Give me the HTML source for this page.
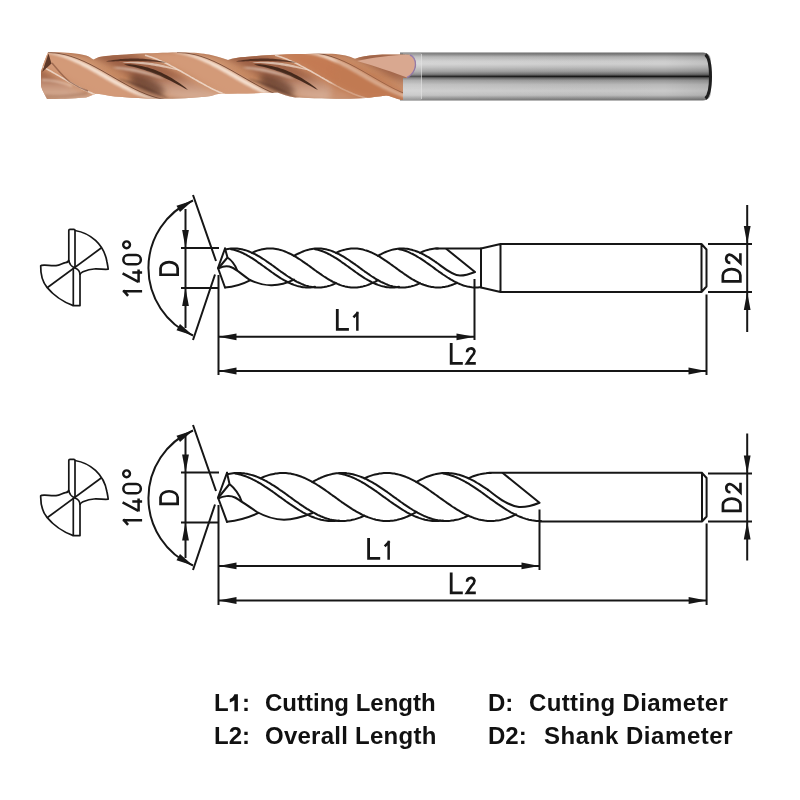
<!DOCTYPE html>
<html><head><meta charset="utf-8"><style>
html,body{margin:0;padding:0;background:#fff;}
svg{display:block;}
text{font-family:"Liberation Sans",sans-serif;}
.lg{position:absolute;font-family:"Liberation Sans",sans-serif;font-size:24px;font-weight:bold;color:#111;white-space:pre;line-height:1;will-change:transform;}
</style></head><body>
<div style="position:relative;width:800px;height:800px;overflow:hidden;">
<svg width="800" height="800" viewBox="0 0 800 800">
<defs>
<clipPath id="cu"><path d="M48,52.5 C58,51.8 76,53 86,55.5 C89,56.5 91,58 93.5,59.5 C97,57.5 101,56.3 106,56 C125,54 165,52.2 186,52.5 C198,52.8 206,53.8 211,55 C218,56.5 223,58.5 228,60 C233,58.3 239,57.2 245,57 C268,54.5 300,53.5 332,53.7 C342,54.2 350,56.2 355,58.8 C361,56.5 368,55.3 375,55 C385,54.2 397,54.5 409,54.8 C414,56 416,60 415.8,65 C415.5,70 412,75 407,78 L403,78 L403,100 C395,99 392,96 386,95.5 C372,97.5 360,98.8 345,98.8 C320,98.5 305,98 295,97.5 C288,96.5 282,94 277.5,92.5 C265,93 240,93.5 220,93.8 C215,94.5 213,95.5 211,96 C195,98 175,98.8 161,98.8 C140,98.5 120,97 111,96 C105,95 100,94 96,93.8 C92,95 89,97 86,97.5 C72,98.5 58,99 47,99 C44,93 41,88 41,85 L41,71.5 C43,64 46,57 48,52.5 Z"/></clipPath>
<filter id="bl05" x="-30%" y="-60%" width="160%" height="220%"><feGaussianBlur stdDeviation="0.5"/></filter>
<filter id="bl1" x="-30%" y="-60%" width="160%" height="220%"><feGaussianBlur stdDeviation="1"/></filter>
<filter id="bl15" x="-30%" y="-60%" width="160%" height="220%"><feGaussianBlur stdDeviation="1.5"/></filter>
<filter id="bl2" x="-30%" y="-60%" width="160%" height="220%"><feGaussianBlur stdDeviation="2"/></filter>
<filter id="bl3" x="-30%" y="-60%" width="160%" height="220%"><feGaussianBlur stdDeviation="3"/></filter>
<filter id="bl4" x="-30%" y="-60%" width="160%" height="220%"><feGaussianBlur stdDeviation="4"/></filter>
<linearGradient id="cuBase" x1="0" y1="0" x2="0" y2="1">
 <stop offset="0" stop-color="#a86a4a"/>
 <stop offset="0.15" stop-color="#d09670"/>
 <stop offset="0.5" stop-color="#c4865f"/>
 <stop offset="0.85" stop-color="#d09a78"/>
 <stop offset="1" stop-color="#a06848"/>
</linearGradient>
<linearGradient id="shank" x1="0" y1="0" x2="0" y2="1">
 <stop offset="0" stop-color="#6a6a6a"/>
 <stop offset="0.04" stop-color="#808080"/>
 <stop offset="0.09" stop-color="#afafaf"/>
 <stop offset="0.18" stop-color="#cdcdcd"/>
 <stop offset="0.24" stop-color="#d0d0d0"/>
 <stop offset="0.31" stop-color="#bbbbbb"/>
 <stop offset="0.39" stop-color="#9c9c9c"/>
 <stop offset="0.455" stop-color="#6c6c6c"/>
 <stop offset="0.5" stop-color="#161616"/>
 <stop offset="0.53" stop-color="#5e5e5e"/>
 <stop offset="0.58" stop-color="#969696"/>
 <stop offset="0.67" stop-color="#bababa"/>
 <stop offset="0.8" stop-color="#cacaca"/>
 <stop offset="0.89" stop-color="#bcbcbc"/>
 <stop offset="0.95" stop-color="#8e8e8e"/>
 <stop offset="1" stop-color="#6e6e6e"/>
</linearGradient>
<linearGradient id="fluteG" gradientUnits="userSpaceOnUse" x1="0" y1="52" x2="0" y2="100">
 <stop offset="0" stop-color="#9a5f44"/>
 <stop offset="0.5" stop-color="#a2664a"/>
 <stop offset="0.72" stop-color="#c8987e"/>
 <stop offset="1" stop-color="#dcb49c"/>
</linearGradient>
<linearGradient id="shankX" x1="0" y1="0" x2="1" y2="0">
 <stop offset="0" stop-color="#fff" stop-opacity="0.12"/>
 <stop offset="0.4" stop-color="#fff" stop-opacity="0.03"/>
 <stop offset="0.85" stop-color="#000" stop-opacity="0.0"/>
 <stop offset="1" stop-color="#000" stop-opacity="0.08"/>
</linearGradient>
</defs>
<path d="M400,52.5 L703,52.5 C708,52.5 711,56 711,62 L711,91 C711,97 708,100.5 703,100.5 L400,100.5 Z" fill="url(#shank)"/>
<path d="M400,53 L703,53 C708,53 711,56 711,62 L711,91 C711,97 708,100 703,100 L400,100 Z" fill="url(#shankX)"/>
<rect x="403" y="53" width="18.5" height="47" fill="#ececec" opacity="0.2"/>
<path d="M421.5,54 V99" stroke="#e6e6e6" stroke-width="1" opacity="0.6"/>
<path d="M705.5,54.5 C709.5,58 710.5,66 710.5,76.5 C710.5,87 709.5,95 705.5,98.5" fill="none" stroke="#1e1e1e" stroke-width="3"/>
<g clip-path="url(#cu)">
<rect x="38" y="50" width="380" height="52" fill="url(#cuBase)"/>
<path d="M-65.0,52.5 L-63.0,52.5 L-61.0,52.6 L-59.0,52.8 L-57.0,52.9 L-55.0,53.2 L-53.0,53.5 L-51.0,53.9 L-49.0,54.3 L-47.0,54.7 L-45.0,55.2 L-43.0,55.8 L-41.0,56.4 L-39.0,57.1 L-37.0,57.8 L-35.0,58.5 L-33.0,59.3 L-31.0,60.2 L-29.0,61.0 L-27.0,61.9 L-25.0,62.9 L-23.0,63.8 L-21.0,64.8 L-19.0,65.9 L-17.0,66.9 L-15.0,68.0 L-13.0,69.1 L-11.0,70.2 L-9.0,71.3 L-7.0,72.5 L-5.0,73.6 L-3.0,74.8 L-1.0,75.9 L1.0,77.1 L3.0,78.2 L5.0,79.4 L7.0,80.5 L9.0,81.7 L11.0,82.8 L13.0,83.9 L15.0,85.0 L17.0,86.1 L19.0,87.1 L21.0,88.2 L23.0,89.2 L25.0,90.1 L27.0,91.1 L29.0,92.0 L31.0,92.8 L33.0,93.7 L35.0,94.5 L37.0,95.2 L39.0,95.9 L41.0,96.6 L43.0,97.2 L45.0,97.8 L47.0,98.3 L49.0,98.7 L51.0,99.1 L53.0,99.5 L55.0,99.8 L57.0,100.1 L59.0,100.2 L61.0,100.4 L63.0,100.5 L65.0,100.5 L119.0,100.5 L117.0,100.5 L115.0,100.4 L113.0,100.2 L111.0,100.1 L109.0,99.8 L107.0,99.5 L105.0,99.1 L103.0,98.7 L101.0,98.3 L99.0,97.8 L97.0,97.2 L95.0,96.6 L93.0,95.9 L91.0,95.2 L89.0,94.5 L87.0,93.7 L85.0,92.8 L83.0,92.0 L81.0,91.1 L79.0,90.1 L77.0,89.2 L75.0,88.2 L73.0,87.1 L71.0,86.1 L69.0,85.0 L67.0,83.9 L65.0,82.8 L63.0,81.7 L61.0,80.5 L59.0,79.4 L57.0,78.2 L55.0,77.1 L53.0,75.9 L51.0,74.8 L49.0,73.6 L47.0,72.5 L45.0,71.3 L43.0,70.2 L41.0,69.1 L39.0,68.0 L37.0,66.9 L35.0,65.9 L33.0,64.8 L31.0,63.8 L29.0,62.9 L27.0,61.9 L25.0,61.0 L23.0,60.2 L21.0,59.3 L19.0,58.5 L17.0,57.8 L15.0,57.1 L13.0,56.4 L11.0,55.8 L9.0,55.2 L7.0,54.7 L5.0,54.3 L3.0,53.9 L1.0,53.5 L-1.0,53.2 L-3.0,52.9 L-5.0,52.8 L-7.0,52.6 L-9.0,52.5 L-11.0,52.5Z" fill="url(#fluteG)" filter="url(#bl3)"/>
<path d="M-5.0,52.5 L-3.0,52.5 L-1.0,52.6 L1.0,52.8 L3.0,52.9 L5.0,53.2 L7.0,53.5 L9.0,53.9 L11.0,54.3 L13.0,54.7 L15.0,55.2 L17.0,55.8 L19.0,56.4 L21.0,57.1 L23.0,57.8 L25.0,58.5 L27.0,59.3 L29.0,60.2 L31.0,61.0 L33.0,61.9 L35.0,62.9 L37.0,63.8 L39.0,64.8 L41.0,65.9 L43.0,66.9 L45.0,68.0 L47.0,69.1 L49.0,70.2 L51.0,71.3 L53.0,72.5 L55.0,73.6 L57.0,74.8 L59.0,75.9 L61.0,77.1 L63.0,78.2 L65.0,79.4 L67.0,80.5 L69.0,81.7 L71.0,82.8 L73.0,83.9 L75.0,85.0 L77.0,86.1 L79.0,87.1 L81.0,88.2 L83.0,89.2 L85.0,90.1 L87.0,91.1 L89.0,92.0 L91.0,92.8 L93.0,93.7 L95.0,94.5 L97.0,95.2 L99.0,95.9 L101.0,96.6 L103.0,97.2 L105.0,97.8 L107.0,98.3 L109.0,98.7 L111.0,99.1 L113.0,99.5 L115.0,99.8 L117.0,100.1 L119.0,100.2 L121.0,100.4 L123.0,100.5 L125.0,100.5 L175.0,100.5 L173.0,100.5 L171.0,100.4 L169.0,100.2 L167.0,100.1 L165.0,99.8 L163.0,99.5 L161.0,99.1 L159.0,98.7 L157.0,98.3 L155.0,97.8 L153.0,97.2 L151.0,96.6 L149.0,95.9 L147.0,95.2 L145.0,94.5 L143.0,93.7 L141.0,92.8 L139.0,92.0 L137.0,91.1 L135.0,90.1 L133.0,89.2 L131.0,88.2 L129.0,87.1 L127.0,86.1 L125.0,85.0 L123.0,83.9 L121.0,82.8 L119.0,81.7 L117.0,80.5 L115.0,79.4 L113.0,78.2 L111.0,77.1 L109.0,75.9 L107.0,74.8 L105.0,73.6 L103.0,72.5 L101.0,71.3 L99.0,70.2 L97.0,69.1 L95.0,68.0 L93.0,66.9 L91.0,65.9 L89.0,64.8 L87.0,63.8 L85.0,62.9 L83.0,61.9 L81.0,61.0 L79.0,60.2 L77.0,59.3 L75.0,58.5 L73.0,57.8 L71.0,57.1 L69.0,56.4 L67.0,55.8 L65.0,55.2 L63.0,54.7 L61.0,54.3 L59.0,53.9 L57.0,53.5 L55.0,53.2 L53.0,52.9 L51.0,52.8 L49.0,52.6 L47.0,52.5 L45.0,52.5Z" fill="#d39a78" filter="url(#bl3)"/>
<path d="M36.0,52.5 L38.0,52.5 L40.0,52.6 L42.0,52.8 L44.0,52.9 L46.0,53.2 L48.0,53.5 L50.0,53.9 L52.0,54.3 L54.0,54.7 L56.0,55.2 L58.0,55.8 L60.0,56.4 L62.0,57.1 L64.0,57.8 L66.0,58.5 L68.0,59.3 L70.0,60.2 L72.0,61.0 L74.0,61.9 L76.0,62.9 L78.0,63.8 L80.0,64.8 L82.0,65.9 L84.0,66.9 L86.0,68.0 L88.0,69.1 L90.0,70.2 L92.0,71.3 L94.0,72.5 L96.0,73.6 L98.0,74.8 L100.0,75.9 L102.0,77.1 L104.0,78.2 L106.0,79.4 L108.0,80.5 L110.0,81.7 L112.0,82.8 L114.0,83.9 L116.0,85.0 L118.0,86.1 L120.0,87.1 L122.0,88.2 L124.0,89.2 L126.0,90.1 L128.0,91.1 L130.0,92.0 L132.0,92.8 L134.0,93.7 L136.0,94.5 L138.0,95.2 L140.0,95.9 L142.0,96.6 L144.0,97.2 L146.0,97.8 L148.0,98.3 L150.0,98.7 L152.0,99.1 L154.0,99.5 L156.0,99.8 L158.0,100.1 L160.0,100.2 L162.0,100.4 L164.0,100.5 L166.0,100.5 L175.0,100.5 L173.0,100.5 L171.0,100.4 L169.0,100.2 L167.0,100.1 L165.0,99.8 L163.0,99.5 L161.0,99.1 L159.0,98.7 L157.0,98.3 L155.0,97.8 L153.0,97.2 L151.0,96.6 L149.0,95.9 L147.0,95.2 L145.0,94.5 L143.0,93.7 L141.0,92.8 L139.0,92.0 L137.0,91.1 L135.0,90.1 L133.0,89.2 L131.0,88.2 L129.0,87.1 L127.0,86.1 L125.0,85.0 L123.0,83.9 L121.0,82.8 L119.0,81.7 L117.0,80.5 L115.0,79.4 L113.0,78.2 L111.0,77.1 L109.0,75.9 L107.0,74.8 L105.0,73.6 L103.0,72.5 L101.0,71.3 L99.0,70.2 L97.0,69.1 L95.0,68.0 L93.0,66.9 L91.0,65.9 L89.0,64.8 L87.0,63.8 L85.0,62.9 L83.0,61.9 L81.0,61.0 L79.0,60.2 L77.0,59.3 L75.0,58.5 L73.0,57.8 L71.0,57.1 L69.0,56.4 L67.0,55.8 L65.0,55.2 L63.0,54.7 L61.0,54.3 L59.0,53.9 L57.0,53.5 L55.0,53.2 L53.0,52.9 L51.0,52.8 L49.0,52.6 L47.0,52.5 L45.0,52.5Z" fill="#f8e6d8" opacity="0.9" filter="url(#bl1)"/>
<path d="M65.0,52.5 L67.0,52.5 L69.0,52.6 L71.0,52.8 L73.0,52.9 L75.0,53.2 L77.0,53.5 L79.0,53.9 L81.0,54.3 L83.0,54.7 L85.0,55.2 L87.0,55.8 L89.0,56.4 L91.0,57.1 L93.0,57.8 L95.0,58.5 L97.0,59.3 L99.0,60.2 L101.0,61.0 L103.0,61.9 L105.0,62.9 L107.0,63.8 L109.0,64.8 L111.0,65.9 L113.0,66.9 L115.0,68.0 L117.0,69.1 L119.0,70.2 L121.0,71.3 L123.0,72.5 L125.0,73.6 L127.0,74.8 L129.0,75.9 L131.0,77.1 L133.0,78.2 L135.0,79.4 L137.0,80.5 L139.0,81.7 L141.0,82.8 L143.0,83.9 L145.0,85.0 L147.0,86.1 L149.0,87.1 L151.0,88.2 L153.0,89.2 L155.0,90.1 L157.0,91.1 L159.0,92.0 L161.0,92.8 L163.0,93.7 L165.0,94.5 L167.0,95.2 L169.0,95.9 L171.0,96.6 L173.0,97.2 L175.0,97.8 L177.0,98.3 L179.0,98.7 L181.0,99.1 L183.0,99.5 L185.0,99.8 L187.0,100.1 L189.0,100.2 L191.0,100.4 L193.0,100.5 L195.0,100.5 L249.0,100.5 L247.0,100.5 L245.0,100.4 L243.0,100.2 L241.0,100.1 L239.0,99.8 L237.0,99.5 L235.0,99.1 L233.0,98.7 L231.0,98.3 L229.0,97.8 L227.0,97.2 L225.0,96.6 L223.0,95.9 L221.0,95.2 L219.0,94.5 L217.0,93.7 L215.0,92.8 L213.0,92.0 L211.0,91.1 L209.0,90.1 L207.0,89.2 L205.0,88.2 L203.0,87.1 L201.0,86.1 L199.0,85.0 L197.0,83.9 L195.0,82.8 L193.0,81.7 L191.0,80.5 L189.0,79.4 L187.0,78.2 L185.0,77.1 L183.0,75.9 L181.0,74.8 L179.0,73.6 L177.0,72.5 L175.0,71.3 L173.0,70.2 L171.0,69.1 L169.0,68.0 L167.0,66.9 L165.0,65.9 L163.0,64.8 L161.0,63.8 L159.0,62.9 L157.0,61.9 L155.0,61.0 L153.0,60.2 L151.0,59.3 L149.0,58.5 L147.0,57.8 L145.0,57.1 L143.0,56.4 L141.0,55.8 L139.0,55.2 L137.0,54.7 L135.0,54.3 L133.0,53.9 L131.0,53.5 L129.0,53.2 L127.0,52.9 L125.0,52.8 L123.0,52.6 L121.0,52.5 L119.0,52.5Z" fill="url(#fluteG)" filter="url(#bl3)"/>
<path d="M125.0,52.5 L127.0,52.5 L129.0,52.6 L131.0,52.8 L133.0,52.9 L135.0,53.2 L137.0,53.5 L139.0,53.9 L141.0,54.3 L143.0,54.7 L145.0,55.2 L147.0,55.8 L149.0,56.4 L151.0,57.1 L153.0,57.8 L155.0,58.5 L157.0,59.3 L159.0,60.2 L161.0,61.0 L163.0,61.9 L165.0,62.9 L167.0,63.8 L169.0,64.8 L171.0,65.9 L173.0,66.9 L175.0,68.0 L177.0,69.1 L179.0,70.2 L181.0,71.3 L183.0,72.5 L185.0,73.6 L187.0,74.8 L189.0,75.9 L191.0,77.1 L193.0,78.2 L195.0,79.4 L197.0,80.5 L199.0,81.7 L201.0,82.8 L203.0,83.9 L205.0,85.0 L207.0,86.1 L209.0,87.1 L211.0,88.2 L213.0,89.2 L215.0,90.1 L217.0,91.1 L219.0,92.0 L221.0,92.8 L223.0,93.7 L225.0,94.5 L227.0,95.2 L229.0,95.9 L231.0,96.6 L233.0,97.2 L235.0,97.8 L237.0,98.3 L239.0,98.7 L241.0,99.1 L243.0,99.5 L245.0,99.8 L247.0,100.1 L249.0,100.2 L251.0,100.4 L253.0,100.5 L255.0,100.5 L305.0,100.5 L303.0,100.5 L301.0,100.4 L299.0,100.2 L297.0,100.1 L295.0,99.8 L293.0,99.5 L291.0,99.1 L289.0,98.7 L287.0,98.3 L285.0,97.8 L283.0,97.2 L281.0,96.6 L279.0,95.9 L277.0,95.2 L275.0,94.5 L273.0,93.7 L271.0,92.8 L269.0,92.0 L267.0,91.1 L265.0,90.1 L263.0,89.2 L261.0,88.2 L259.0,87.1 L257.0,86.1 L255.0,85.0 L253.0,83.9 L251.0,82.8 L249.0,81.7 L247.0,80.5 L245.0,79.4 L243.0,78.2 L241.0,77.1 L239.0,75.9 L237.0,74.8 L235.0,73.6 L233.0,72.5 L231.0,71.3 L229.0,70.2 L227.0,69.1 L225.0,68.0 L223.0,66.9 L221.0,65.9 L219.0,64.8 L217.0,63.8 L215.0,62.9 L213.0,61.9 L211.0,61.0 L209.0,60.2 L207.0,59.3 L205.0,58.5 L203.0,57.8 L201.0,57.1 L199.0,56.4 L197.0,55.8 L195.0,55.2 L193.0,54.7 L191.0,54.3 L189.0,53.9 L187.0,53.5 L185.0,53.2 L183.0,52.9 L181.0,52.8 L179.0,52.6 L177.0,52.5 L175.0,52.5Z" fill="#d39a78" filter="url(#bl3)"/>
<path d="M166.0,52.5 L168.0,52.5 L170.0,52.6 L172.0,52.8 L174.0,52.9 L176.0,53.2 L178.0,53.5 L180.0,53.9 L182.0,54.3 L184.0,54.7 L186.0,55.2 L188.0,55.8 L190.0,56.4 L192.0,57.1 L194.0,57.8 L196.0,58.5 L198.0,59.3 L200.0,60.2 L202.0,61.0 L204.0,61.9 L206.0,62.9 L208.0,63.8 L210.0,64.8 L212.0,65.9 L214.0,66.9 L216.0,68.0 L218.0,69.1 L220.0,70.2 L222.0,71.3 L224.0,72.5 L226.0,73.6 L228.0,74.8 L230.0,75.9 L232.0,77.1 L234.0,78.2 L236.0,79.4 L238.0,80.5 L240.0,81.7 L242.0,82.8 L244.0,83.9 L246.0,85.0 L248.0,86.1 L250.0,87.1 L252.0,88.2 L254.0,89.2 L256.0,90.1 L258.0,91.1 L260.0,92.0 L262.0,92.8 L264.0,93.7 L266.0,94.5 L268.0,95.2 L270.0,95.9 L272.0,96.6 L274.0,97.2 L276.0,97.8 L278.0,98.3 L280.0,98.7 L282.0,99.1 L284.0,99.5 L286.0,99.8 L288.0,100.1 L290.0,100.2 L292.0,100.4 L294.0,100.5 L296.0,100.5 L305.0,100.5 L303.0,100.5 L301.0,100.4 L299.0,100.2 L297.0,100.1 L295.0,99.8 L293.0,99.5 L291.0,99.1 L289.0,98.7 L287.0,98.3 L285.0,97.8 L283.0,97.2 L281.0,96.6 L279.0,95.9 L277.0,95.2 L275.0,94.5 L273.0,93.7 L271.0,92.8 L269.0,92.0 L267.0,91.1 L265.0,90.1 L263.0,89.2 L261.0,88.2 L259.0,87.1 L257.0,86.1 L255.0,85.0 L253.0,83.9 L251.0,82.8 L249.0,81.7 L247.0,80.5 L245.0,79.4 L243.0,78.2 L241.0,77.1 L239.0,75.9 L237.0,74.8 L235.0,73.6 L233.0,72.5 L231.0,71.3 L229.0,70.2 L227.0,69.1 L225.0,68.0 L223.0,66.9 L221.0,65.9 L219.0,64.8 L217.0,63.8 L215.0,62.9 L213.0,61.9 L211.0,61.0 L209.0,60.2 L207.0,59.3 L205.0,58.5 L203.0,57.8 L201.0,57.1 L199.0,56.4 L197.0,55.8 L195.0,55.2 L193.0,54.7 L191.0,54.3 L189.0,53.9 L187.0,53.5 L185.0,53.2 L183.0,52.9 L181.0,52.8 L179.0,52.6 L177.0,52.5 L175.0,52.5Z" fill="#f8e6d8" opacity="0.9" filter="url(#bl1)"/>
<path d="M195.0,52.5 L197.0,52.5 L199.0,52.6 L201.0,52.8 L203.0,52.9 L205.0,53.2 L207.0,53.5 L209.0,53.9 L211.0,54.3 L213.0,54.7 L215.0,55.2 L217.0,55.8 L219.0,56.4 L221.0,57.1 L223.0,57.8 L225.0,58.5 L227.0,59.3 L229.0,60.2 L231.0,61.0 L233.0,61.9 L235.0,62.9 L237.0,63.8 L239.0,64.8 L241.0,65.9 L243.0,66.9 L245.0,68.0 L247.0,69.1 L249.0,70.2 L251.0,71.3 L253.0,72.5 L255.0,73.6 L257.0,74.8 L259.0,75.9 L261.0,77.1 L263.0,78.2 L265.0,79.4 L267.0,80.5 L269.0,81.7 L271.0,82.8 L273.0,83.9 L275.0,85.0 L277.0,86.1 L279.0,87.1 L281.0,88.2 L283.0,89.2 L285.0,90.1 L287.0,91.1 L289.0,92.0 L291.0,92.8 L293.0,93.7 L295.0,94.5 L297.0,95.2 L299.0,95.9 L301.0,96.6 L303.0,97.2 L305.0,97.8 L307.0,98.3 L309.0,98.7 L311.0,99.1 L313.0,99.5 L315.0,99.8 L317.0,100.1 L319.0,100.2 L321.0,100.4 L323.0,100.5 L325.0,100.5 L379.0,100.5 L377.0,100.5 L375.0,100.4 L373.0,100.2 L371.0,100.1 L369.0,99.8 L367.0,99.5 L365.0,99.1 L363.0,98.7 L361.0,98.3 L359.0,97.8 L357.0,97.2 L355.0,96.6 L353.0,95.9 L351.0,95.2 L349.0,94.5 L347.0,93.7 L345.0,92.8 L343.0,92.0 L341.0,91.1 L339.0,90.1 L337.0,89.2 L335.0,88.2 L333.0,87.1 L331.0,86.1 L329.0,85.0 L327.0,83.9 L325.0,82.8 L323.0,81.7 L321.0,80.5 L319.0,79.4 L317.0,78.2 L315.0,77.1 L313.0,75.9 L311.0,74.8 L309.0,73.6 L307.0,72.5 L305.0,71.3 L303.0,70.2 L301.0,69.1 L299.0,68.0 L297.0,66.9 L295.0,65.9 L293.0,64.8 L291.0,63.8 L289.0,62.9 L287.0,61.9 L285.0,61.0 L283.0,60.2 L281.0,59.3 L279.0,58.5 L277.0,57.8 L275.0,57.1 L273.0,56.4 L271.0,55.8 L269.0,55.2 L267.0,54.7 L265.0,54.3 L263.0,53.9 L261.0,53.5 L259.0,53.2 L257.0,52.9 L255.0,52.8 L253.0,52.6 L251.0,52.5 L249.0,52.5Z" fill="url(#fluteG)" filter="url(#bl3)"/>
<path d="M255.0,52.5 L257.0,52.5 L259.0,52.6 L261.0,52.8 L263.0,52.9 L265.0,53.2 L267.0,53.5 L269.0,53.9 L271.0,54.3 L273.0,54.7 L275.0,55.2 L277.0,55.8 L279.0,56.4 L281.0,57.1 L283.0,57.8 L285.0,58.5 L287.0,59.3 L289.0,60.2 L291.0,61.0 L293.0,61.9 L295.0,62.9 L297.0,63.8 L299.0,64.8 L301.0,65.9 L303.0,66.9 L305.0,68.0 L307.0,69.1 L309.0,70.2 L311.0,71.3 L313.0,72.5 L315.0,73.6 L317.0,74.8 L319.0,75.9 L321.0,77.1 L323.0,78.2 L325.0,79.4 L327.0,80.5 L329.0,81.7 L331.0,82.8 L333.0,83.9 L335.0,85.0 L337.0,86.1 L339.0,87.1 L341.0,88.2 L343.0,89.2 L345.0,90.1 L347.0,91.1 L349.0,92.0 L351.0,92.8 L353.0,93.7 L355.0,94.5 L357.0,95.2 L359.0,95.9 L361.0,96.6 L363.0,97.2 L365.0,97.8 L367.0,98.3 L369.0,98.7 L371.0,99.1 L373.0,99.5 L375.0,99.8 L377.0,100.1 L379.0,100.2 L381.0,100.4 L383.0,100.5 L385.0,100.5 L435.0,100.5 L433.0,100.5 L431.0,100.4 L429.0,100.2 L427.0,100.1 L425.0,99.8 L423.0,99.5 L421.0,99.1 L419.0,98.7 L417.0,98.3 L415.0,97.8 L413.0,97.2 L411.0,96.6 L409.0,95.9 L407.0,95.2 L405.0,94.5 L403.0,93.7 L401.0,92.8 L399.0,92.0 L397.0,91.1 L395.0,90.1 L393.0,89.2 L391.0,88.2 L389.0,87.1 L387.0,86.1 L385.0,85.0 L383.0,83.9 L381.0,82.8 L379.0,81.7 L377.0,80.5 L375.0,79.4 L373.0,78.2 L371.0,77.1 L369.0,75.9 L367.0,74.8 L365.0,73.6 L363.0,72.5 L361.0,71.3 L359.0,70.2 L357.0,69.1 L355.0,68.0 L353.0,66.9 L351.0,65.9 L349.0,64.8 L347.0,63.8 L345.0,62.9 L343.0,61.9 L341.0,61.0 L339.0,60.2 L337.0,59.3 L335.0,58.5 L333.0,57.8 L331.0,57.1 L329.0,56.4 L327.0,55.8 L325.0,55.2 L323.0,54.7 L321.0,54.3 L319.0,53.9 L317.0,53.5 L315.0,53.2 L313.0,52.9 L311.0,52.8 L309.0,52.6 L307.0,52.5 L305.0,52.5Z" fill="#c47a52" filter="url(#bl3)"/>
<path d="M296.0,52.5 L298.0,52.5 L300.0,52.6 L302.0,52.8 L304.0,52.9 L306.0,53.2 L308.0,53.5 L310.0,53.9 L312.0,54.3 L314.0,54.7 L316.0,55.2 L318.0,55.8 L320.0,56.4 L322.0,57.1 L324.0,57.8 L326.0,58.5 L328.0,59.3 L330.0,60.2 L332.0,61.0 L334.0,61.9 L336.0,62.9 L338.0,63.8 L340.0,64.8 L342.0,65.9 L344.0,66.9 L346.0,68.0 L348.0,69.1 L350.0,70.2 L352.0,71.3 L354.0,72.5 L356.0,73.6 L358.0,74.8 L360.0,75.9 L362.0,77.1 L364.0,78.2 L366.0,79.4 L368.0,80.5 L370.0,81.7 L372.0,82.8 L374.0,83.9 L376.0,85.0 L378.0,86.1 L380.0,87.1 L382.0,88.2 L384.0,89.2 L386.0,90.1 L388.0,91.1 L390.0,92.0 L392.0,92.8 L394.0,93.7 L396.0,94.5 L398.0,95.2 L400.0,95.9 L402.0,96.6 L404.0,97.2 L406.0,97.8 L408.0,98.3 L410.0,98.7 L412.0,99.1 L414.0,99.5 L416.0,99.8 L418.0,100.1 L420.0,100.2 L422.0,100.4 L424.0,100.5 L426.0,100.5 L435.0,100.5 L433.0,100.5 L431.0,100.4 L429.0,100.2 L427.0,100.1 L425.0,99.8 L423.0,99.5 L421.0,99.1 L419.0,98.7 L417.0,98.3 L415.0,97.8 L413.0,97.2 L411.0,96.6 L409.0,95.9 L407.0,95.2 L405.0,94.5 L403.0,93.7 L401.0,92.8 L399.0,92.0 L397.0,91.1 L395.0,90.1 L393.0,89.2 L391.0,88.2 L389.0,87.1 L387.0,86.1 L385.0,85.0 L383.0,83.9 L381.0,82.8 L379.0,81.7 L377.0,80.5 L375.0,79.4 L373.0,78.2 L371.0,77.1 L369.0,75.9 L367.0,74.8 L365.0,73.6 L363.0,72.5 L361.0,71.3 L359.0,70.2 L357.0,69.1 L355.0,68.0 L353.0,66.9 L351.0,65.9 L349.0,64.8 L347.0,63.8 L345.0,62.9 L343.0,61.9 L341.0,61.0 L339.0,60.2 L337.0,59.3 L335.0,58.5 L333.0,57.8 L331.0,57.1 L329.0,56.4 L327.0,55.8 L325.0,55.2 L323.0,54.7 L321.0,54.3 L319.0,53.9 L317.0,53.5 L315.0,53.2 L313.0,52.9 L311.0,52.8 L309.0,52.6 L307.0,52.5 L305.0,52.5Z" fill="#f8e6d8" opacity="0.9" filter="url(#bl1)"/>
<path d="M325.0,52.5 L327.0,52.5 L329.0,52.6 L331.0,52.8 L333.0,52.9 L335.0,53.2 L337.0,53.5 L339.0,53.9 L341.0,54.3 L343.0,54.7 L345.0,55.2 L347.0,55.8 L349.0,56.4 L351.0,57.1 L353.0,57.8 L355.0,58.5 L357.0,59.3 L359.0,60.2 L361.0,61.0 L363.0,61.9 L365.0,62.9 L367.0,63.8 L369.0,64.8 L371.0,65.9 L373.0,66.9 L375.0,68.0 L377.0,69.1 L379.0,70.2 L381.0,71.3 L383.0,72.5 L385.0,73.6 L387.0,74.8 L389.0,75.9 L391.0,77.1 L393.0,78.2 L395.0,79.4 L397.0,80.5 L399.0,81.7 L401.0,82.8 L403.0,83.9 L405.0,85.0 L407.0,86.1 L409.0,87.1 L411.0,88.2 L413.0,89.2 L415.0,90.1 L417.0,91.1 L419.0,92.0 L421.0,92.8 L423.0,93.7 L425.0,94.5 L427.0,95.2 L429.0,95.9 L431.0,96.6 L433.0,97.2 L435.0,97.8 L437.0,98.3 L439.0,98.7 L441.0,99.1 L443.0,99.5 L445.0,99.8 L447.0,100.1 L449.0,100.2 L451.0,100.4 L453.0,100.5 L455.0,100.5 L509.0,100.5 L507.0,100.5 L505.0,100.4 L503.0,100.2 L501.0,100.1 L499.0,99.8 L497.0,99.5 L495.0,99.1 L493.0,98.7 L491.0,98.3 L489.0,97.8 L487.0,97.2 L485.0,96.6 L483.0,95.9 L481.0,95.2 L479.0,94.5 L477.0,93.7 L475.0,92.8 L473.0,92.0 L471.0,91.1 L469.0,90.1 L467.0,89.2 L465.0,88.2 L463.0,87.1 L461.0,86.1 L459.0,85.0 L457.0,83.9 L455.0,82.8 L453.0,81.7 L451.0,80.5 L449.0,79.4 L447.0,78.2 L445.0,77.1 L443.0,75.9 L441.0,74.8 L439.0,73.6 L437.0,72.5 L435.0,71.3 L433.0,70.2 L431.0,69.1 L429.0,68.0 L427.0,66.9 L425.0,65.9 L423.0,64.8 L421.0,63.8 L419.0,62.9 L417.0,61.9 L415.0,61.0 L413.0,60.2 L411.0,59.3 L409.0,58.5 L407.0,57.8 L405.0,57.1 L403.0,56.4 L401.0,55.8 L399.0,55.2 L397.0,54.7 L395.0,54.3 L393.0,53.9 L391.0,53.5 L389.0,53.2 L387.0,52.9 L385.0,52.8 L383.0,52.6 L381.0,52.5 L379.0,52.5Z" fill="url(#fluteG)" filter="url(#bl3)"/>
<path d="M385.0,52.5 L387.0,52.5 L389.0,52.6 L391.0,52.8 L393.0,52.9 L395.0,53.2 L397.0,53.5 L399.0,53.9 L401.0,54.3 L403.0,54.7 L405.0,55.2 L407.0,55.8 L409.0,56.4 L411.0,57.1 L413.0,57.8 L415.0,58.5 L417.0,59.3 L419.0,60.2 L421.0,61.0 L423.0,61.9 L425.0,62.9 L427.0,63.8 L429.0,64.8 L431.0,65.9 L433.0,66.9 L435.0,68.0 L437.0,69.1 L439.0,70.2 L441.0,71.3 L443.0,72.5 L445.0,73.6 L447.0,74.8 L449.0,75.9 L451.0,77.1 L453.0,78.2 L455.0,79.4 L457.0,80.5 L459.0,81.7 L461.0,82.8 L463.0,83.9 L465.0,85.0 L467.0,86.1 L469.0,87.1 L471.0,88.2 L473.0,89.2 L475.0,90.1 L477.0,91.1 L479.0,92.0 L481.0,92.8 L483.0,93.7 L485.0,94.5 L487.0,95.2 L489.0,95.9 L491.0,96.6 L493.0,97.2 L495.0,97.8 L497.0,98.3 L499.0,98.7 L501.0,99.1 L503.0,99.5 L505.0,99.8 L507.0,100.1 L509.0,100.2 L511.0,100.4 L513.0,100.5 L515.0,100.5 L565.0,100.5 L563.0,100.5 L561.0,100.4 L559.0,100.2 L557.0,100.1 L555.0,99.8 L553.0,99.5 L551.0,99.1 L549.0,98.7 L547.0,98.3 L545.0,97.8 L543.0,97.2 L541.0,96.6 L539.0,95.9 L537.0,95.2 L535.0,94.5 L533.0,93.7 L531.0,92.8 L529.0,92.0 L527.0,91.1 L525.0,90.1 L523.0,89.2 L521.0,88.2 L519.0,87.1 L517.0,86.1 L515.0,85.0 L513.0,83.9 L511.0,82.8 L509.0,81.7 L507.0,80.5 L505.0,79.4 L503.0,78.2 L501.0,77.1 L499.0,75.9 L497.0,74.8 L495.0,73.6 L493.0,72.5 L491.0,71.3 L489.0,70.2 L487.0,69.1 L485.0,68.0 L483.0,66.9 L481.0,65.9 L479.0,64.8 L477.0,63.8 L475.0,62.9 L473.0,61.9 L471.0,61.0 L469.0,60.2 L467.0,59.3 L465.0,58.5 L463.0,57.8 L461.0,57.1 L459.0,56.4 L457.0,55.8 L455.0,55.2 L453.0,54.7 L451.0,54.3 L449.0,53.9 L447.0,53.5 L445.0,53.2 L443.0,52.9 L441.0,52.8 L439.0,52.6 L437.0,52.5 L435.0,52.5Z" fill="#d39a78" filter="url(#bl3)"/>
<path d="M426.0,52.5 L428.0,52.5 L430.0,52.6 L432.0,52.8 L434.0,52.9 L436.0,53.2 L438.0,53.5 L440.0,53.9 L442.0,54.3 L444.0,54.7 L446.0,55.2 L448.0,55.8 L450.0,56.4 L452.0,57.1 L454.0,57.8 L456.0,58.5 L458.0,59.3 L460.0,60.2 L462.0,61.0 L464.0,61.9 L466.0,62.9 L468.0,63.8 L470.0,64.8 L472.0,65.9 L474.0,66.9 L476.0,68.0 L478.0,69.1 L480.0,70.2 L482.0,71.3 L484.0,72.5 L486.0,73.6 L488.0,74.8 L490.0,75.9 L492.0,77.1 L494.0,78.2 L496.0,79.4 L498.0,80.5 L500.0,81.7 L502.0,82.8 L504.0,83.9 L506.0,85.0 L508.0,86.1 L510.0,87.1 L512.0,88.2 L514.0,89.2 L516.0,90.1 L518.0,91.1 L520.0,92.0 L522.0,92.8 L524.0,93.7 L526.0,94.5 L528.0,95.2 L530.0,95.9 L532.0,96.6 L534.0,97.2 L536.0,97.8 L538.0,98.3 L540.0,98.7 L542.0,99.1 L544.0,99.5 L546.0,99.8 L548.0,100.1 L550.0,100.2 L552.0,100.4 L554.0,100.5 L556.0,100.5 L565.0,100.5 L563.0,100.5 L561.0,100.4 L559.0,100.2 L557.0,100.1 L555.0,99.8 L553.0,99.5 L551.0,99.1 L549.0,98.7 L547.0,98.3 L545.0,97.8 L543.0,97.2 L541.0,96.6 L539.0,95.9 L537.0,95.2 L535.0,94.5 L533.0,93.7 L531.0,92.8 L529.0,92.0 L527.0,91.1 L525.0,90.1 L523.0,89.2 L521.0,88.2 L519.0,87.1 L517.0,86.1 L515.0,85.0 L513.0,83.9 L511.0,82.8 L509.0,81.7 L507.0,80.5 L505.0,79.4 L503.0,78.2 L501.0,77.1 L499.0,75.9 L497.0,74.8 L495.0,73.6 L493.0,72.5 L491.0,71.3 L489.0,70.2 L487.0,69.1 L485.0,68.0 L483.0,66.9 L481.0,65.9 L479.0,64.8 L477.0,63.8 L475.0,62.9 L473.0,61.9 L471.0,61.0 L469.0,60.2 L467.0,59.3 L465.0,58.5 L463.0,57.8 L461.0,57.1 L459.0,56.4 L457.0,55.8 L455.0,55.2 L453.0,54.7 L451.0,54.3 L449.0,53.9 L447.0,53.5 L445.0,53.2 L443.0,52.9 L441.0,52.8 L439.0,52.6 L437.0,52.5 L435.0,52.5Z" fill="#f8e6d8" opacity="0.9" filter="url(#bl1)"/>
<path d="M47.0,52.5 L49.0,52.5 L51.0,52.6 L53.0,52.8 L55.0,52.9 L57.0,53.2 L59.0,53.5 L61.0,53.9 L63.0,54.3 L65.0,54.7 L67.0,55.2 L69.0,55.8 L71.0,56.4 L73.0,57.1 L75.0,57.8 L77.0,58.5 L79.0,59.3 L81.0,60.2 L83.0,61.0 L85.0,61.9 L87.0,62.9 L89.0,63.8 L91.0,64.8 L93.0,65.9 L95.0,66.9 L97.0,68.0 L99.0,69.1 L101.0,70.2 L103.0,71.3 L105.0,72.5 L107.0,73.6 L109.0,74.8 L111.0,75.9 L113.0,77.1 L115.0,78.2 L117.0,79.4 L119.0,80.5 L121.0,81.7 L123.0,82.8 L125.0,83.9 L127.0,85.0 L129.0,86.1 L131.0,87.1 L133.0,88.2 L135.0,89.2 L137.0,90.1 L139.0,91.1 L141.0,92.0 L143.0,92.8 L145.0,93.7 L147.0,94.5 L149.0,95.2 L151.0,95.9 L153.0,96.6 L155.0,97.2 L157.0,97.8 L159.0,98.3 L161.0,98.7 L163.0,99.1 L165.0,99.5 L167.0,99.8 L169.0,100.1 L171.0,100.2 L173.0,100.4 L175.0,100.5 L177.0,100.5" fill="none" stroke="#6a3e2c" stroke-width="1" opacity="0.8"/>
<path d="M15.0,55.2 L17.0,55.8 L19.0,56.4 L21.0,57.1 L23.0,57.8 L25.0,58.5 L27.0,59.3 L29.0,60.2 L31.0,61.0 L33.0,61.9 L35.0,62.9 L37.0,63.8 L39.0,64.8 L41.0,65.9 L43.0,66.9 L45.0,68.0 L47.0,69.1 L49.0,70.2 L51.0,71.3 L53.0,72.5 L55.0,73.6 L57.0,74.8 L59.0,75.9 L61.0,77.1 L63.0,78.2 L65.0,79.4 L67.0,80.5 L69.0,81.7 L71.0,82.8 L73.0,83.9 L75.0,85.0 L77.0,86.1 L79.0,87.1 L81.0,88.2 L83.0,89.2 L85.0,90.1 L87.0,91.1 L89.0,92.0 L91.0,92.8 L93.0,93.7 L95.0,94.5 L97.0,95.2 L99.0,95.9 L101.0,96.6 L103.0,97.2 L105.0,97.8 L107.0,98.3 L109.0,98.7 L111.0,99.1 L113.0,99.5" fill="none" stroke="#f8ece2" stroke-width="1.6" opacity="0.7" filter="url(#bl05)"/>
<path d="M177.0,52.5 L179.0,52.5 L181.0,52.6 L183.0,52.8 L185.0,52.9 L187.0,53.2 L189.0,53.5 L191.0,53.9 L193.0,54.3 L195.0,54.7 L197.0,55.2 L199.0,55.8 L201.0,56.4 L203.0,57.1 L205.0,57.8 L207.0,58.5 L209.0,59.3 L211.0,60.2 L213.0,61.0 L215.0,61.9 L217.0,62.9 L219.0,63.8 L221.0,64.8 L223.0,65.9 L225.0,66.9 L227.0,68.0 L229.0,69.1 L231.0,70.2 L233.0,71.3 L235.0,72.5 L237.0,73.6 L239.0,74.8 L241.0,75.9 L243.0,77.1 L245.0,78.2 L247.0,79.4 L249.0,80.5 L251.0,81.7 L253.0,82.8 L255.0,83.9 L257.0,85.0 L259.0,86.1 L261.0,87.1 L263.0,88.2 L265.0,89.2 L267.0,90.1 L269.0,91.1 L271.0,92.0 L273.0,92.8 L275.0,93.7 L277.0,94.5 L279.0,95.2 L281.0,95.9 L283.0,96.6 L285.0,97.2 L287.0,97.8 L289.0,98.3 L291.0,98.7 L293.0,99.1 L295.0,99.5 L297.0,99.8 L299.0,100.1 L301.0,100.2 L303.0,100.4 L305.0,100.5 L307.0,100.5" fill="none" stroke="#6a3e2c" stroke-width="1" opacity="0.8"/>
<path d="M145.0,55.2 L147.0,55.8 L149.0,56.4 L151.0,57.1 L153.0,57.8 L155.0,58.5 L157.0,59.3 L159.0,60.2 L161.0,61.0 L163.0,61.9 L165.0,62.9 L167.0,63.8 L169.0,64.8 L171.0,65.9 L173.0,66.9 L175.0,68.0 L177.0,69.1 L179.0,70.2 L181.0,71.3 L183.0,72.5 L185.0,73.6 L187.0,74.8 L189.0,75.9 L191.0,77.1 L193.0,78.2 L195.0,79.4 L197.0,80.5 L199.0,81.7 L201.0,82.8 L203.0,83.9 L205.0,85.0 L207.0,86.1 L209.0,87.1 L211.0,88.2 L213.0,89.2 L215.0,90.1 L217.0,91.1 L219.0,92.0 L221.0,92.8 L223.0,93.7 L225.0,94.5 L227.0,95.2 L229.0,95.9 L231.0,96.6 L233.0,97.2 L235.0,97.8 L237.0,98.3 L239.0,98.7 L241.0,99.1 L243.0,99.5" fill="none" stroke="#f8ece2" stroke-width="1.6" opacity="0.7" filter="url(#bl05)"/>
<path d="M307.0,52.5 L309.0,52.5 L311.0,52.6 L313.0,52.8 L315.0,52.9 L317.0,53.2 L319.0,53.5 L321.0,53.9 L323.0,54.3 L325.0,54.7 L327.0,55.2 L329.0,55.8 L331.0,56.4 L333.0,57.1 L335.0,57.8 L337.0,58.5 L339.0,59.3 L341.0,60.2 L343.0,61.0 L345.0,61.9 L347.0,62.9 L349.0,63.8 L351.0,64.8 L353.0,65.9 L355.0,66.9 L357.0,68.0 L359.0,69.1 L361.0,70.2 L363.0,71.3 L365.0,72.5 L367.0,73.6 L369.0,74.8 L371.0,75.9 L373.0,77.1 L375.0,78.2 L377.0,79.4 L379.0,80.5 L381.0,81.7 L383.0,82.8 L385.0,83.9 L387.0,85.0 L389.0,86.1 L391.0,87.1 L393.0,88.2 L395.0,89.2 L397.0,90.1 L399.0,91.1 L401.0,92.0 L403.0,92.8 L405.0,93.7 L407.0,94.5 L409.0,95.2 L411.0,95.9 L413.0,96.6 L415.0,97.2 L417.0,97.8 L419.0,98.3 L421.0,98.7 L423.0,99.1 L425.0,99.5 L427.0,99.8 L429.0,100.1 L431.0,100.2 L433.0,100.4 L435.0,100.5 L437.0,100.5" fill="none" stroke="#6a3e2c" stroke-width="1" opacity="0.8"/>
<path d="M275.0,55.2 L277.0,55.8 L279.0,56.4 L281.0,57.1 L283.0,57.8 L285.0,58.5 L287.0,59.3 L289.0,60.2 L291.0,61.0 L293.0,61.9 L295.0,62.9 L297.0,63.8 L299.0,64.8 L301.0,65.9 L303.0,66.9 L305.0,68.0 L307.0,69.1 L309.0,70.2 L311.0,71.3 L313.0,72.5 L315.0,73.6 L317.0,74.8 L319.0,75.9 L321.0,77.1 L323.0,78.2 L325.0,79.4 L327.0,80.5 L329.0,81.7 L331.0,82.8 L333.0,83.9 L335.0,85.0 L337.0,86.1 L339.0,87.1 L341.0,88.2 L343.0,89.2 L345.0,90.1 L347.0,91.1 L349.0,92.0 L351.0,92.8 L353.0,93.7 L355.0,94.5 L357.0,95.2 L359.0,95.9 L361.0,96.6 L363.0,97.2 L365.0,97.8 L367.0,98.3 L369.0,98.7 L371.0,99.1 L373.0,99.5" fill="none" stroke="#f8ece2" stroke-width="1.6" opacity="0.7" filter="url(#bl05)"/>
<path d="M437.0,52.5 L439.0,52.5 L441.0,52.6 L443.0,52.8 L445.0,52.9 L447.0,53.2 L449.0,53.5 L451.0,53.9 L453.0,54.3 L455.0,54.7 L457.0,55.2 L459.0,55.8 L461.0,56.4 L463.0,57.1 L465.0,57.8 L467.0,58.5 L469.0,59.3 L471.0,60.2 L473.0,61.0 L475.0,61.9 L477.0,62.9 L479.0,63.8 L481.0,64.8 L483.0,65.9 L485.0,66.9 L487.0,68.0 L489.0,69.1 L491.0,70.2 L493.0,71.3 L495.0,72.5 L497.0,73.6 L499.0,74.8 L501.0,75.9 L503.0,77.1 L505.0,78.2 L507.0,79.4 L509.0,80.5 L511.0,81.7 L513.0,82.8 L515.0,83.9 L517.0,85.0 L519.0,86.1 L521.0,87.1 L523.0,88.2 L525.0,89.2 L527.0,90.1 L529.0,91.1 L531.0,92.0 L533.0,92.8 L535.0,93.7 L537.0,94.5 L539.0,95.2 L541.0,95.9 L543.0,96.6 L545.0,97.2 L547.0,97.8 L549.0,98.3 L551.0,98.7 L553.0,99.1 L555.0,99.5 L557.0,99.8 L559.0,100.1 L561.0,100.2 L563.0,100.4 L565.0,100.5 L567.0,100.5" fill="none" stroke="#6a3e2c" stroke-width="1" opacity="0.8"/>
<path d="M405.0,55.2 L407.0,55.8 L409.0,56.4 L411.0,57.1 L413.0,57.8 L415.0,58.5 L417.0,59.3 L419.0,60.2 L421.0,61.0 L423.0,61.9 L425.0,62.9 L427.0,63.8 L429.0,64.8 L431.0,65.9 L433.0,66.9 L435.0,68.0 L437.0,69.1 L439.0,70.2 L441.0,71.3 L443.0,72.5 L445.0,73.6 L447.0,74.8 L449.0,75.9 L451.0,77.1 L453.0,78.2 L455.0,79.4 L457.0,80.5 L459.0,81.7 L461.0,82.8 L463.0,83.9 L465.0,85.0 L467.0,86.1 L469.0,87.1 L471.0,88.2 L473.0,89.2 L475.0,90.1 L477.0,91.1 L479.0,92.0 L481.0,92.8 L483.0,93.7 L485.0,94.5 L487.0,95.2 L489.0,95.9 L491.0,96.6 L493.0,97.2 L495.0,97.8 L497.0,98.3 L499.0,98.7 L501.0,99.1 L503.0,99.5" fill="none" stroke="#f8ece2" stroke-width="1.6" opacity="0.7" filter="url(#bl05)"/>
<g transform="translate(0,0)"><ellipse cx="147" cy="85" rx="19" ry="7" transform="rotate(25 147 85)" fill="#5a3426" opacity="0.7" filter="url(#bl3)"/><path d="M106.0,61.5 L108.4,61.6 L110.8,61.5 L113.2,61.4 L115.7,61.3 L118.1,61.2 L120.5,61.1 L122.9,61.0 L125.4,61.0 L127.8,60.9 L130.3,60.9 L132.8,60.9 L135.2,60.9 L137.7,61.0 L140.2,61.1 L142.7,61.1 L145.3,61.2 L147.8,61.3 L150.4,61.5 L152.9,61.6 L155.5,61.8 L158.1,62.0 L160.7,62.2 L163.3,62.4 L166.0,62.5 L166.0,62.5 L163.4,61.7 L160.8,61.2 L158.3,60.7 L155.7,60.3 L153.1,59.9 L150.5,59.5 L148.0,59.3 L145.4,59.0 L142.9,58.8 L140.3,58.7 L137.8,58.6 L135.3,58.6 L132.8,58.5 L130.3,58.6 L127.8,58.7 L125.3,58.8 L122.8,58.9 L120.4,59.1 L117.9,59.4 L115.5,59.7 L113.1,60.0 L110.7,60.4 L108.3,60.8 L106.0,61.5Z" fill="#4a2a1e" opacity="0.85" filter="url(#bl05)"/><path d="M124.0,64.5 L126.6,65.3 L129.1,65.9 L131.7,66.5 L134.2,67.1 L136.8,67.8 L139.3,68.5 L141.8,69.2 L144.4,70.0 L146.9,70.9 L149.5,71.8 L152.0,72.7 L154.6,73.7 L157.2,74.7 L159.8,75.8 L162.4,77.0 L165.1,78.2 L167.8,79.5 L170.5,80.8 L173.3,82.2 L176.1,83.7 L179.0,85.3 L181.9,86.8 L184.8,88.5 L188.0,90.0 L188.0,90.0 L185.4,87.6 L182.7,85.5 L180.0,83.5 L177.3,81.7 L174.6,79.9 L172.0,78.3 L169.3,76.7 L166.6,75.2 L163.9,73.9 L161.2,72.6 L158.6,71.4 L155.9,70.3 L153.2,69.3 L150.6,68.4 L147.9,67.6 L145.3,66.9 L142.6,66.2 L140.0,65.7 L137.3,65.2 L134.7,64.8 L132.0,64.5 L129.3,64.3 L126.7,64.3 L124.0,64.5Z" fill="#3a2218" opacity="0.9" filter="url(#bl05)"/><path d="M122.0,62.5 L124.8,62.8 L127.6,63.0 L130.3,63.1 L132.9,63.3 L135.4,63.5 L137.9,63.7 L140.3,64.0 L142.7,64.2 L145.1,64.5 L147.4,64.8 L149.7,65.1 L151.9,65.4 L154.2,65.8 L156.5,66.2 L158.7,66.5 L161.0,66.9 L163.2,67.4 L165.5,67.8 L167.8,68.3 L170.2,68.7 L172.5,69.2 L175.0,69.7 L177.4,70.2 L180.0,70.5 L180.0,70.5 L177.6,69.5 L175.2,68.7 L172.9,67.9 L170.5,67.2 L168.2,66.5 L166.0,65.9 L163.7,65.3 L161.4,64.8 L159.1,64.3 L156.9,63.8 L154.6,63.4 L152.3,63.1 L150.0,62.7 L147.7,62.5 L145.3,62.2 L142.9,62.0 L140.5,61.9 L138.0,61.8 L135.5,61.7 L132.9,61.7 L130.3,61.8 L127.6,61.9 L124.8,62.1 L122.0,62.5Z" fill="#f6e8dc" opacity="0.65" filter="url(#bl05)"/><path d="M112.0,67.5 L114.2,68.1 L116.4,68.5 L118.5,68.9 L120.7,69.3 L122.8,69.6 L124.9,70.0 L127.0,70.4 L129.1,70.8 L131.1,71.2 L133.2,71.7 L135.3,72.1 L137.4,72.6 L139.5,73.0 L141.6,73.5 L143.8,74.0 L146.0,74.5 L148.2,75.1 L150.4,75.6 L152.7,76.2 L155.1,76.8 L157.4,77.4 L159.9,78.0 L162.4,78.6 L165.0,79.0 L165.0,79.0 L162.7,77.7 L160.3,76.6 L158.0,75.7 L155.7,74.8 L153.4,73.9 L151.2,73.1 L149.0,72.4 L146.8,71.7 L144.6,71.1 L142.4,70.5 L140.2,69.9 L138.1,69.4 L136.0,69.0 L133.8,68.6 L131.7,68.2 L129.5,67.9 L127.4,67.7 L125.2,67.4 L123.1,67.3 L120.9,67.2 L118.7,67.1 L116.5,67.1 L114.3,67.2 L112.0,67.5Z" fill="#f6e8dc" opacity="0.55" filter="url(#bl1)"/><path d="M118.0,79.0 L120.0,79.9 L122.0,80.7 L124.1,81.4 L126.1,82.1 L128.1,82.9 L130.1,83.6 L132.1,84.4 L134.1,85.1 L136.1,85.9 L138.1,86.7 L140.1,87.5 L142.1,88.3 L144.1,89.1 L146.2,89.9 L148.2,90.8 L150.3,91.6 L152.4,92.4 L154.5,93.3 L156.7,94.1 L158.9,94.9 L161.1,95.8 L163.3,96.6 L165.6,97.4 L168.0,98.0 L168.0,98.0 L165.9,96.6 L163.8,95.5 L161.7,94.3 L159.6,93.2 L157.5,92.2 L155.4,91.2 L153.4,90.2 L151.3,89.2 L149.3,88.3 L147.2,87.4 L145.2,86.5 L143.1,85.7 L141.1,84.9 L139.1,84.1 L137.0,83.4 L134.9,82.7 L132.9,82.1 L130.8,81.5 L128.7,80.9 L126.6,80.4 L124.5,79.9 L122.4,79.5 L120.2,79.1 L118.0,79.0Z" fill="#4a2c20" opacity="0.5" filter="url(#bl1)"/></g>
<g transform="translate(130,0)"><ellipse cx="147" cy="85" rx="19" ry="7" transform="rotate(25 147 85)" fill="#5a3426" opacity="0.7" filter="url(#bl3)"/><path d="M106.0,61.5 L108.4,61.6 L110.8,61.5 L113.2,61.4 L115.7,61.3 L118.1,61.2 L120.5,61.1 L122.9,61.0 L125.4,61.0 L127.8,60.9 L130.3,60.9 L132.8,60.9 L135.2,60.9 L137.7,61.0 L140.2,61.1 L142.7,61.1 L145.3,61.2 L147.8,61.3 L150.4,61.5 L152.9,61.6 L155.5,61.8 L158.1,62.0 L160.7,62.2 L163.3,62.4 L166.0,62.5 L166.0,62.5 L163.4,61.7 L160.8,61.2 L158.3,60.7 L155.7,60.3 L153.1,59.9 L150.5,59.5 L148.0,59.3 L145.4,59.0 L142.9,58.8 L140.3,58.7 L137.8,58.6 L135.3,58.6 L132.8,58.5 L130.3,58.6 L127.8,58.7 L125.3,58.8 L122.8,58.9 L120.4,59.1 L117.9,59.4 L115.5,59.7 L113.1,60.0 L110.7,60.4 L108.3,60.8 L106.0,61.5Z" fill="#4a2a1e" opacity="0.85" filter="url(#bl05)"/><path d="M124.0,64.5 L126.6,65.3 L129.1,65.9 L131.7,66.5 L134.2,67.1 L136.8,67.8 L139.3,68.5 L141.8,69.2 L144.4,70.0 L146.9,70.9 L149.5,71.8 L152.0,72.7 L154.6,73.7 L157.2,74.7 L159.8,75.8 L162.4,77.0 L165.1,78.2 L167.8,79.5 L170.5,80.8 L173.3,82.2 L176.1,83.7 L179.0,85.3 L181.9,86.8 L184.8,88.5 L188.0,90.0 L188.0,90.0 L185.4,87.6 L182.7,85.5 L180.0,83.5 L177.3,81.7 L174.6,79.9 L172.0,78.3 L169.3,76.7 L166.6,75.2 L163.9,73.9 L161.2,72.6 L158.6,71.4 L155.9,70.3 L153.2,69.3 L150.6,68.4 L147.9,67.6 L145.3,66.9 L142.6,66.2 L140.0,65.7 L137.3,65.2 L134.7,64.8 L132.0,64.5 L129.3,64.3 L126.7,64.3 L124.0,64.5Z" fill="#3a2218" opacity="0.9" filter="url(#bl05)"/><path d="M122.0,62.5 L124.8,62.8 L127.6,63.0 L130.3,63.1 L132.9,63.3 L135.4,63.5 L137.9,63.7 L140.3,64.0 L142.7,64.2 L145.1,64.5 L147.4,64.8 L149.7,65.1 L151.9,65.4 L154.2,65.8 L156.5,66.2 L158.7,66.5 L161.0,66.9 L163.2,67.4 L165.5,67.8 L167.8,68.3 L170.2,68.7 L172.5,69.2 L175.0,69.7 L177.4,70.2 L180.0,70.5 L180.0,70.5 L177.6,69.5 L175.2,68.7 L172.9,67.9 L170.5,67.2 L168.2,66.5 L166.0,65.9 L163.7,65.3 L161.4,64.8 L159.1,64.3 L156.9,63.8 L154.6,63.4 L152.3,63.1 L150.0,62.7 L147.7,62.5 L145.3,62.2 L142.9,62.0 L140.5,61.9 L138.0,61.8 L135.5,61.7 L132.9,61.7 L130.3,61.8 L127.6,61.9 L124.8,62.1 L122.0,62.5Z" fill="#f6e8dc" opacity="0.65" filter="url(#bl05)"/><path d="M112.0,67.5 L114.2,68.1 L116.4,68.5 L118.5,68.9 L120.7,69.3 L122.8,69.6 L124.9,70.0 L127.0,70.4 L129.1,70.8 L131.1,71.2 L133.2,71.7 L135.3,72.1 L137.4,72.6 L139.5,73.0 L141.6,73.5 L143.8,74.0 L146.0,74.5 L148.2,75.1 L150.4,75.6 L152.7,76.2 L155.1,76.8 L157.4,77.4 L159.9,78.0 L162.4,78.6 L165.0,79.0 L165.0,79.0 L162.7,77.7 L160.3,76.6 L158.0,75.7 L155.7,74.8 L153.4,73.9 L151.2,73.1 L149.0,72.4 L146.8,71.7 L144.6,71.1 L142.4,70.5 L140.2,69.9 L138.1,69.4 L136.0,69.0 L133.8,68.6 L131.7,68.2 L129.5,67.9 L127.4,67.7 L125.2,67.4 L123.1,67.3 L120.9,67.2 L118.7,67.1 L116.5,67.1 L114.3,67.2 L112.0,67.5Z" fill="#f6e8dc" opacity="0.55" filter="url(#bl1)"/><path d="M118.0,79.0 L120.0,79.9 L122.0,80.7 L124.1,81.4 L126.1,82.1 L128.1,82.9 L130.1,83.6 L132.1,84.4 L134.1,85.1 L136.1,85.9 L138.1,86.7 L140.1,87.5 L142.1,88.3 L144.1,89.1 L146.2,89.9 L148.2,90.8 L150.3,91.6 L152.4,92.4 L154.5,93.3 L156.7,94.1 L158.9,94.9 L161.1,95.8 L163.3,96.6 L165.6,97.4 L168.0,98.0 L168.0,98.0 L165.9,96.6 L163.8,95.5 L161.7,94.3 L159.6,93.2 L157.5,92.2 L155.4,91.2 L153.4,90.2 L151.3,89.2 L149.3,88.3 L147.2,87.4 L145.2,86.5 L143.1,85.7 L141.1,84.9 L139.1,84.1 L137.0,83.4 L134.9,82.7 L132.9,82.1 L130.8,81.5 L128.7,80.9 L126.6,80.4 L124.5,79.9 L122.4,79.5 L120.2,79.1 L118.0,79.0Z" fill="#4a2c20" opacity="0.5" filter="url(#bl1)"/></g>
<path d="M52,63 C58,70 64,78 70,82 C76,86 82,89 88,91" fill="none" stroke="#8a5840" stroke-width="1.5" opacity="0.7" filter="url(#bl05)"/>
<path d="M42,80 C52,80 62,82 72,86" fill="none" stroke="#f0d8c8" stroke-width="2" opacity="0.6" filter="url(#bl1)"/>
<path d="M44,96 C60,97 75,96 88,93" fill="none" stroke="#8e5c42" stroke-width="2.5" opacity="0.5" filter="url(#bl15)"/>
<path d="M48.5,53.5 L42.2,72 L51.5,63.5 Z" fill="#5e3828" filter="url(#bl05)"/>
<path d="M335,58 C360,66 385,78 404,90 L404,101 L330,101 Z" fill="#c07a52" opacity="0.55" filter="url(#bl3)"/>
<path d="M357,61 C375,57 395,54.5 409,55 C414,56 416,60 415.5,65 C415,70 412,75 407,77.5 C395,73 375,66 357,61 Z" fill="#d9a890" filter="url(#bl05)"/>
</g>
<path d="M410,55 C414,56.5 415.5,60 415.5,65 C415,70 412,75 407,77.5" fill="none" stroke="#8a76b4" stroke-width="1.4" opacity="0.8"/>
<g transform="translate(0,0)" stroke="#161616" fill="none" stroke-width="1.7" stroke-linejoin="round"><path d="M68.8,260 V230.5 Q68.8,229.3 70,229.3 H73.8 Q75,229.3 75,230.5 V268"/><path d="M68.8,260 C68.5,262 67.5,262.5 65.5,262.6 C62,263 60.5,265.3 56,265.6 C51,265.9 47,265 44,265.2 C42.2,265.3 41,265.4 40.7,265.8 C40.5,275 42.5,282 47,287.4 C52,293.5 62,302 73.3,305.6"/><path d="M68.8,260 C69.2,264 71,266.5 75,268"/><path d="M73.3,268 V305.6 H80 V275"/><path d="M80,275 C80,271.5 78,269 75,268"/><path d="M75,230.5 C90,233 104,244 107,262 C107.6,265 108,267 108.2,269.2 C104,269.6 100,268.8 94,269 C88,269.3 85,271 82.5,272 C80.8,272.8 80,274 80,275"/><path d="M47.5,287.5 L101.5,247.8"/></g>
<g stroke="#161616" fill="none" stroke-width="2.0"><path d="M193,195 L216,261 M215,274.5 L193,340"/><path d="M193.0,200.5 A73.4,73.4 0 0 0 193.0,335.5"/></g><path d="M193.0,200.5 L180.0,212.0 L176.5,205.8Z" fill="#161616" stroke="none"/><path d="M193.0,335.5 L176.5,330.2 L180.0,324.0Z" fill="#161616" stroke="none"/>
<g stroke="#161616" fill="none" stroke-width="2.0"><path d="M185.5,209 L185.5,328 M181,248 L219,248 M181,288 L219,288"/></g><path d="M185.5,248.0 L182.1,230.0 L188.9,230.0Z" fill="#161616" stroke="none"/><path d="M185.5,288.0 L188.9,306.0 L182.1,306.0Z" fill="#161616" stroke="none"/>
<g stroke="#161616" fill="none" stroke-width="2.0" stroke-linejoin="round" stroke-linecap="round"><path d="M225.0,249.6 L226.5,249.3 L228.0,249.0 L229.5,248.8 L231.0,248.6 L232.5,248.5 L234.0,248.5 L235.5,248.5 L237.0,248.6 L238.5,248.8 L240.0,249.0 L241.5,249.3 L243.0,249.6 L244.5,250.0 L246.0,250.4 L247.5,250.9 L249.0,251.5 L250.5,252.1 L252.0,252.8 L253.5,253.5 L255.0,254.2 L256.5,255.0 L258.0,255.8 L259.5,256.7 L261.0,257.6 L262.5,258.6 L264.0,259.5 L265.5,260.5 L267.0,261.6 L268.5,262.6 L270.0,263.7 L271.5,264.7 L273.0,265.8 L274.5,266.9 L276.0,268.0 L277.5,269.1 L279.0,270.2 L280.5,271.3 L282.0,272.3 L283.5,273.4 L285.0,274.4 L286.5,275.5 L288.0,276.5 L289.5,277.4 L291.0,278.4 L292.5,279.3 L294.0,280.2 L295.5,281.0 L297.0,281.8 L298.5,282.5 L300.0,283.2 L301.5,283.9 L303.0,284.5 L304.5,285.1 L306.0,285.6 L307.5,286.0 L309.0,286.4 L310.5,286.7 L312.0,287.0 L313.5,287.2 L315.0,287.4 L316.5,287.5 L318.0,287.5 L319.5,287.5 L321.0,287.4 L322.5,287.2 L324.0,287.0 L325.5,286.7 L327.0,286.4 L328.5,286.0 L330.0,285.6 L331.5,285.1 L333.0,284.5 L334.5,283.9 L336.0,283.2"/><path d="M231.0,249.2 L232.5,249.5 L234.0,249.8 L235.5,250.3 L237.0,250.8 L238.5,251.3 L240.0,251.9 L241.5,252.5 L243.0,253.2 L244.5,254.0 L246.0,254.7 L247.5,255.6 L249.0,256.4 L250.5,257.3 L252.0,258.2 L253.5,259.2 L255.0,260.2 L256.5,261.2 L258.0,262.3 L259.5,263.3 L261.0,264.4 L262.5,265.5 L264.0,266.5 L265.5,267.6 L267.0,268.7 L268.5,269.8 L270.0,270.9 L271.5,272.0 L273.0,273.0 L274.5,274.1 L276.0,275.1 L277.5,276.1 L279.0,277.1 L280.5,278.1 L282.0,279.0 L283.5,279.9 L285.0,280.7 L286.5,281.5 L288.0,282.3 L289.5,283.0 L291.0,283.7 L292.5,284.3 L294.0,284.9 L295.5,285.4 L297.0,285.9 L298.5,286.3 L300.0,286.6 L301.5,286.9 L303.0,287.2 L304.5,287.3 L306.0,287.4 L307.5,287.5 L309.0,287.5 L310.5,287.4 L312.0,287.3 L313.5,287.1 L315.0,286.8"/><path d="M294.0,255.8 L295.5,255.0 L297.0,254.2 L298.5,253.5 L300.0,252.8 L301.5,252.1 L303.0,251.5 L304.5,250.9 L306.0,250.4 L307.5,250.0 L309.0,249.6 L310.5,249.3 L312.0,249.0 L313.5,248.8 L315.0,248.6 L316.5,248.5 L318.0,248.5 L319.5,248.5 L321.0,248.6 L322.5,248.8 L324.0,249.0 L325.5,249.3 L327.0,249.6 L328.5,250.0 L330.0,250.4 L331.5,250.9 L333.0,251.5 L334.5,252.1 L336.0,252.8 L337.5,253.5 L339.0,254.2 L340.5,255.0 L342.0,255.8 L343.5,256.7 L345.0,257.6 L346.5,258.6 L348.0,259.5 L349.5,260.5 L351.0,261.6 L352.5,262.6 L354.0,263.7 L355.5,264.7 L357.0,265.8 L358.5,266.9 L360.0,268.0 L361.5,269.1 L363.0,270.2 L364.5,271.3 L366.0,272.3 L367.5,273.4 L369.0,274.4 L370.5,275.5 L372.0,276.5 L373.5,277.4 L375.0,278.4 L376.5,279.3 L378.0,280.2 L379.5,281.0 L381.0,281.8 L382.5,282.5 L384.0,283.2 L385.5,283.9 L387.0,284.5 L388.5,285.1 L390.0,285.6 L391.5,286.0 L393.0,286.4 L394.5,286.7 L396.0,287.0 L397.5,287.2 L399.0,287.4 L400.5,287.5 L402.0,287.5 L403.5,287.5 L405.0,287.4 L406.5,287.2 L408.0,287.0 L409.5,286.7 L411.0,286.4 L412.5,286.0 L414.0,285.6 L415.5,285.1 L417.0,284.5 L418.5,283.9 L420.0,283.2"/><path d="M315.0,249.2 L316.5,249.5 L318.0,249.8 L319.5,250.3 L321.0,250.8 L322.5,251.3 L324.0,251.9 L325.5,252.5 L327.0,253.2 L328.5,254.0 L330.0,254.7 L331.5,255.6 L333.0,256.4 L334.5,257.3 L336.0,258.2 L337.5,259.2 L339.0,260.2 L340.5,261.2 L342.0,262.3 L343.5,263.3 L345.0,264.4 L346.5,265.5 L348.0,266.5 L349.5,267.6 L351.0,268.7 L352.5,269.8 L354.0,270.9 L355.5,272.0 L357.0,273.0 L358.5,274.1 L360.0,275.1 L361.5,276.1 L363.0,277.1 L364.5,278.1 L366.0,279.0 L367.5,279.9 L369.0,280.7 L370.5,281.5 L372.0,282.3 L373.5,283.0 L375.0,283.7 L376.5,284.3 L378.0,284.9 L379.5,285.4 L381.0,285.9 L382.5,286.3 L384.0,286.6 L385.5,286.9 L387.0,287.2 L388.5,287.3 L390.0,287.4 L391.5,287.5 L393.0,287.5 L394.5,287.4 L396.0,287.3 L397.5,287.1 L399.0,286.8"/><path d="M336.0,252.8 L337.5,252.1 L339.0,251.5 L340.5,250.9 L342.1,250.4 L343.6,250.0 L345.1,249.6 L346.6,249.2 L348.1,249.0 L349.6,248.8 L351.1,248.6 L352.6,248.5 L354.1,248.5 L355.7,248.5 L357.2,248.6 L358.7,248.8 L360.2,249.0 L361.7,249.3 L363.2,249.6 L364.7,250.1 L366.2,250.5 L367.8,251.0 L369.3,251.6 L370.8,252.2 L372.3,252.9 L373.8,253.6 L375.3,254.4 L376.8,255.2 L378.4,256.0 L379.9,256.9 L381.4,257.9 L382.9,258.8 L384.4,259.8 L385.9,260.8 L387.4,261.9 L388.9,262.9 L390.4,264.0 L392.0,265.1 L393.5,266.2 L395.0,267.3 L396.5,268.4 L398.0,269.5 L399.5,270.6 L401.0,271.7 L402.6,272.7 L404.1,273.8 L405.6,274.8 L407.1,275.9 L408.6,276.9 L410.1,277.8 L411.6,278.8 L413.1,279.7 L414.6,280.5 L416.2,281.3 L417.7,282.1 L419.2,282.9 L420.7,283.6 L422.2,284.2 L423.7,284.8 L425.2,285.3 L426.8,285.8 L428.3,286.2 L429.8,286.6 L431.3,286.9 L432.8,287.1 L434.3,287.3 L435.8,287.4 L437.3,287.5 L438.9,287.5 L440.4,287.4 L441.9,287.3 L443.4,287.1 L444.9,286.9 L446.4,286.5 L447.9,286.2 L449.4,285.7 L450.9,285.3 L452.5,284.7 L454.0,284.1 L455.5,283.5 L457.0,282.8"/><path d="M378.0,255.8 L379.5,255.0 L381.1,254.2 L382.6,253.4 L384.1,252.7 L385.6,252.0 L387.2,251.4 L388.7,250.9 L390.2,250.4 L391.7,249.9 L393.3,249.5 L394.8,249.2 L396.3,248.9 L397.8,248.7 L399.4,248.6 L400.9,248.5 L402.4,248.5 L403.9,248.6 L405.5,248.7 L407.0,248.8 L408.5,249.1 L410.1,249.4 L411.6,249.7 L413.1,250.2 L414.6,250.6 L416.2,251.2 L417.7,251.8 L419.2,252.4 L420.7,253.1 L422.3,253.8 L423.8,254.6 L425.3,255.5 L426.8,256.3 L428.4,257.2 L429.9,258.2 L431.4,259.2 L432.9,260.2 L434.5,261.2 L436.0,262.3"/><path d="M399.0,249.2 L400.5,249.5 L402.0,249.9 L403.6,250.3 L405.1,250.8 L406.6,251.3 L408.1,251.9 L409.6,252.6 L411.1,253.3 L412.7,254.0 L414.2,254.8 L415.7,255.7 L417.2,256.6 L418.7,257.5 L420.3,258.4 L421.8,259.4 L423.3,260.4 L424.8,261.4 L426.3,262.5 L427.9,263.6 L429.4,264.6 L430.9,265.7 L432.4,266.8 L433.9,267.9 L435.4,269.1 L437.0,270.2 L438.5,271.3 L440.0,272.3 L441.5,273.4 L443.0,274.5 L444.6,275.5 L446.1,276.5 L447.6,277.5 L449.1,278.4 L450.6,279.4 L452.1,280.2 L453.7,281.1 L455.2,281.9 L456.7,282.6 L458.2,283.3 L459.7,284.0 L461.3,284.6 L462.8,285.2 L464.3,285.7 L465.8,286.1 L467.3,286.5 L468.9,286.8 L470.4,287.1 L471.9,287.3 L473.4,287.4 L474.9,287.5 L476.4,287.5 L478.0,287.4 L479.5,287.3 L481.0,287.2"/><path d="M420.0,252.8 L421.5,252.1 L423.0,251.5 L424.5,250.9 L426.0,250.4 L427.5,250.0 L429.0,249.6 L430.5,249.3 L432.0,249.0 L433.5,248.8 L435.0,248.6 L436.5,248.5 L438.0,248.5"/><path d="M252.0,252.8 L253.5,252.1 L255.0,251.5 L256.5,250.9 L258.0,250.4 L259.5,250.0 L261.0,249.6 L262.5,249.3 L264.0,249.0 L265.5,248.8 L267.0,248.6 L268.5,248.5 L270.0,248.5 L271.5,248.5 L273.0,248.6 L274.5,248.8 L276.0,249.0 L277.5,249.3 L279.0,249.6 L280.5,250.0 L282.0,250.4 L283.5,250.9 L285.0,251.5 L286.5,252.1 L288.0,252.8 L289.5,253.5 L291.0,254.2 L292.5,255.0 L294.0,255.8 L295.5,256.7 L297.0,257.6 L298.5,258.6 L300.0,259.5 L301.5,260.5 L303.0,261.6 L304.5,262.6 L306.0,263.7 L307.5,264.7 L309.0,265.8 L310.5,266.9 L312.0,268.0 L313.5,269.1 L315.0,270.2 L316.5,271.3 L318.0,272.3 L319.5,273.4 L321.0,274.4 L322.5,275.5 L324.0,276.5 L325.5,277.4 L327.0,278.4 L328.5,279.3 L330.0,280.2 L331.5,281.0 L333.0,281.8 L334.5,282.5 L336.0,283.2 L337.5,283.9 L339.0,284.5 L340.5,285.1 L342.0,285.6 L343.5,286.0 L345.0,286.4 L346.5,286.7 L348.0,287.0 L349.5,287.2 L351.0,287.4 L352.5,287.5 L354.0,287.5 L355.5,287.5 L357.0,287.4 L358.5,287.2 L360.0,287.0 L361.5,286.7 L363.0,286.4 L364.5,286.0 L366.0,285.6 L367.5,285.1 L369.0,284.5 L370.5,283.9 L372.0,283.2 L373.5,282.5 L375.0,281.8 L376.5,281.0 L378.0,280.2"/><path d="M225,248.5 L218,268 L225,287.5"/><path d="M225,248.5 L227.5,257.5 L218.5,268 M227.5,257.5 Q234,262 237,270"/><path d="M218.5,268.5 C223,266 228,265.5 232,267.5 C236,269 240,273 249.5,279.75 C258,284 265,285.5 272,285.3 C280,285 287,283 294,279.6"/><path d="M225,287.5 Q238,286.5 250,280.3"/><path d="M436,248.5 L481,248.5"/><path d="M446.5,249 L475,272 C470,274 466,275.6 460,275.6 C452,275.5 443,267.1 436,262.2"/><path d="M481,248.5 L481,287.5 M481,248.5 L500.5,244 L500.5,292 L481,287.5 M500.5,244 L701.5,244 L706.5,249.5 L706.5,286.5 L701.5,292 L500.5,292 M701.5,244 L701.5,292"/></g>
<g stroke="#161616" fill="none" stroke-width="2.0"><path d="M218.5,275 L218.5,375 M474.5,279 L474.5,340 M706.5,294.5 L706.5,375"/></g>
<g stroke="#161616" fill="none" stroke-width="2.0"><path d="M218.5,336.8 L474.5,336.8"/></g><path d="M218.5,336.8 L236.5,333.4 L236.5,340.2Z" fill="#161616" stroke="none"/><path d="M474.5,336.8 L456.5,340.2 L456.5,333.4Z" fill="#161616" stroke="none"/>
<g stroke="#161616" fill="none" stroke-width="2.0"><path d="M218.5,371 L706.5,371"/></g><path d="M218.5,371.0 L236.5,367.6 L236.5,374.4Z" fill="#161616" stroke="none"/><path d="M706.5,371.0 L688.5,374.4 L688.5,367.6Z" fill="#161616" stroke="none"/>
<g stroke="#161616" fill="none" stroke-width="2.0"><path d="M747.2,205 L747.2,332 M708,244 L752,244 M708,292 L752,292"/></g><path d="M747.2,244.0 L743.8,226.0 L750.6,226.0Z" fill="#161616" stroke="none"/><path d="M747.2,292.0 L750.6,310.0 L743.8,310.0Z" fill="#161616" stroke="none"/>
<g transform="translate(0,230)" stroke="#161616" fill="none" stroke-width="1.7" stroke-linejoin="round"><path d="M68.8,260 V230.5 Q68.8,229.3 70,229.3 H73.8 Q75,229.3 75,230.5 V268"/><path d="M68.8,260 C68.5,262 67.5,262.5 65.5,262.6 C62,263 60.5,265.3 56,265.6 C51,265.9 47,265 44,265.2 C42.2,265.3 41,265.4 40.7,265.8 C40.5,275 42.5,282 47,287.4 C52,293.5 62,302 73.3,305.6"/><path d="M68.8,260 C69.2,264 71,266.5 75,268"/><path d="M73.3,268 V305.6 H80 V275"/><path d="M80,275 C80,271.5 78,269 75,268"/><path d="M75,230.5 C90,233 104,244 107,262 C107.6,265 108,267 108.2,269.2 C104,269.6 100,268.8 94,269 C88,269.3 85,271 82.5,272 C80.8,272.8 80,274 80,275"/><path d="M47.5,287.5 L101.5,247.8"/></g>
<g stroke="#161616" fill="none" stroke-width="2.0"><path d="M193,425 L216,491 M215,504.5 L193,570"/><path d="M193.0,430.5 A73.4,73.4 0 0 0 193.0,565.5"/></g><path d="M193.0,430.5 L180.0,442.0 L176.5,435.8Z" fill="#161616" stroke="none"/><path d="M193.0,565.5 L176.5,560.2 L180.0,554.0Z" fill="#161616" stroke="none"/>
<g stroke="#161616" fill="none" stroke-width="2.0"><path d="M185.5,436 L185.5,558 M181,472.6 L219,472.6 M181,522.4 L219,522.4"/></g><path d="M185.5,472.6 L182.1,454.6 L188.9,454.6Z" fill="#161616" stroke="none"/><path d="M185.5,522.4 L188.9,540.4 L182.1,540.4Z" fill="#161616" stroke="none"/>
<g stroke="#161616" fill="none" stroke-width="2.0" stroke-linejoin="round" stroke-linecap="round"><path d="M227.0,474.3 L228.5,474.0 L230.0,473.7 L231.5,473.5 L233.0,473.3 L234.5,473.1 L236.1,473.0 L237.6,473.0 L239.1,473.0 L240.6,473.1 L242.1,473.2 L243.6,473.3 L245.1,473.6 L246.6,473.8 L248.1,474.1 L249.6,474.5 L251.2,474.9 L252.7,475.3 L254.2,475.8 L255.7,476.3 L257.2,476.9 L258.7,477.5 L260.2,478.2 L261.7,478.9 L263.2,479.6 L264.7,480.4 L266.3,481.2 L267.8,482.1 L269.3,482.9 L270.8,483.8 L272.3,484.8 L273.8,485.7 L275.3,486.7 L276.8,487.7 L278.3,488.7 L279.8,489.8 L281.4,490.8 L282.9,491.9 L284.4,492.9 L285.9,494.0 L287.4,495.1 L288.9,496.2 L290.4,497.3 L291.9,498.4 L293.4,499.5 L294.9,500.6 L296.5,501.7 L298.0,502.7 L299.5,503.8 L301.0,504.8 L302.5,505.8 L304.0,506.9 L305.5,507.8 L307.0,508.8 L308.5,509.7 L310.0,510.7 L311.6,511.5 L313.1,512.4 L314.6,513.2 L316.1,514.0 L317.6,514.8 L319.1,515.5 L320.6,516.2 L322.1,516.8 L323.6,517.4 L325.1,518.0 L326.7,518.5 L328.2,518.9 L329.7,519.4 L331.2,519.7 L332.7,520.1 L334.2,520.3 L335.7,520.6 L337.2,520.8 L338.7,520.9 L340.2,521.0 L341.8,521.0 L343.3,521.0 L344.8,520.9 L346.3,520.8 L347.8,520.6 L349.3,520.4 L350.8,520.2 L352.3,519.8 L353.8,519.5 L355.3,519.1 L356.9,518.6 L358.4,518.1 L359.9,517.6 L361.4,517.0 L362.9,516.4 L364.4,515.7"/><path d="M235.0,473.5 L236.5,473.8 L238.0,474.1 L239.5,474.4 L241.0,474.8 L242.5,475.3 L244.0,475.8 L245.6,476.3 L247.1,476.9 L248.6,477.5 L250.1,478.1 L251.6,478.8 L253.1,479.6 L254.6,480.3 L256.1,481.1 L257.6,482.0 L259.1,482.8 L260.6,483.7 L262.1,484.7 L263.6,485.6 L265.1,486.6 L266.7,487.6 L268.2,488.6 L269.7,489.6 L271.2,490.7 L272.7,491.7 L274.2,492.8 L275.7,493.9 L277.2,495.0 L278.7,496.1 L280.2,497.2 L281.7,498.2 L283.2,499.3 L284.7,500.4 L286.2,501.5 L287.8,502.6 L289.3,503.6 L290.8,504.7 L292.3,505.7 L293.8,506.7 L295.3,507.7 L296.8,508.7 L298.3,509.6 L299.8,510.5 L301.3,511.4 L302.8,512.3 L304.3,513.1 L305.8,513.9 L307.3,514.6 L308.9,515.4 L310.4,516.1 L311.9,516.7 L313.4,517.3 L314.9,517.9 L316.4,518.4 L317.9,518.9 L319.4,519.3 L320.9,519.7 L322.4,520.0 L323.9,520.3 L325.4,520.5 L326.9,520.7 L328.4,520.9 L330.0,521.0 L331.5,521.0 L333.0,521.0 L334.5,520.9 L336.0,520.8 L337.5,520.7 L339.0,520.5"/><path d="M312.4,482.0 L313.9,481.1 L315.4,480.3 L316.9,479.6 L318.4,478.8 L319.9,478.2 L321.4,477.5 L322.9,476.9 L324.4,476.3 L325.9,475.8 L327.4,475.3 L328.9,474.9 L330.4,474.5 L331.9,474.1 L333.4,473.8 L334.9,473.5 L336.4,473.3 L337.9,473.2 L339.4,473.1 L340.9,473.0 L342.4,473.0 L343.9,473.0 L345.4,473.1 L346.9,473.3 L348.4,473.4 L349.9,473.7 L351.4,474.0 L352.9,474.3 L354.4,474.7 L355.9,475.1 L357.4,475.6 L358.9,476.1 L360.4,476.6 L361.9,477.2 L363.4,477.8 L364.9,478.5 L366.4,479.2 L367.9,480.0 L369.4,480.8 L370.9,481.6 L372.4,482.4 L373.9,483.3 L375.4,484.2 L376.9,485.1 L378.4,486.1 L379.9,487.1 L381.4,488.1 L382.9,489.1 L384.4,490.1 L385.9,491.2 L387.4,492.2 L388.9,493.3 L390.4,494.4 L391.9,495.5 L393.4,496.6 L394.9,497.7 L396.4,498.7 L397.9,499.8 L399.4,500.9 L400.9,502.0 L402.4,503.0 L403.9,504.1 L405.4,505.1 L406.9,506.1 L408.4,507.1 L409.9,508.1 L411.4,509.0 L412.9,510.0 L414.4,510.9 L415.9,511.7 L417.4,512.6 L418.9,513.4 L420.4,514.2 L421.9,514.9 L423.4,515.6 L424.9,516.3 L426.4,516.9 L427.9,517.5 L429.4,518.0 L430.9,518.5 L432.4,519.0 L433.9,519.4 L435.4,519.8 L436.9,520.1 L438.4,520.4 L439.9,520.6 L441.4,520.8 L442.9,520.9 L444.4,521.0 L445.9,521.0 L447.4,521.0 L448.9,520.9 L450.4,520.8 L451.9,520.6 L453.4,520.4 L454.9,520.1 L456.4,519.8 L457.9,519.5 L459.4,519.1 L460.9,518.6 L462.4,518.1 L463.9,517.6 L465.4,517.0 L466.9,516.4 L468.4,515.7"/><path d="M339.0,473.5 L340.5,473.8 L342.0,474.1 L343.5,474.4 L345.0,474.8 L346.5,475.3 L348.0,475.8 L349.6,476.3 L351.1,476.9 L352.6,477.5 L354.1,478.1 L355.6,478.8 L357.1,479.6 L358.6,480.3 L360.1,481.1 L361.6,482.0 L363.1,482.8 L364.6,483.7 L366.1,484.7 L367.6,485.6 L369.1,486.6 L370.7,487.6 L372.2,488.6 L373.7,489.6 L375.2,490.7 L376.7,491.7 L378.2,492.8 L379.7,493.9 L381.2,495.0 L382.7,496.1 L384.2,497.2 L385.7,498.2 L387.2,499.3 L388.7,500.4 L390.2,501.5 L391.8,502.6 L393.3,503.6 L394.8,504.7 L396.3,505.7 L397.8,506.7 L399.3,507.7 L400.8,508.7 L402.3,509.6 L403.8,510.5 L405.3,511.4 L406.8,512.3 L408.3,513.1 L409.8,513.9 L411.3,514.6 L412.9,515.4 L414.4,516.1 L415.9,516.7 L417.4,517.3 L418.9,517.9 L420.4,518.4 L421.9,518.9 L423.4,519.3 L424.9,519.7 L426.4,520.0 L427.9,520.3 L429.4,520.5 L430.9,520.7 L432.4,520.9 L434.0,521.0 L435.5,521.0 L437.0,521.0 L438.5,520.9 L440.0,520.8 L441.5,520.7 L443.0,520.5"/><path d="M364.4,478.3 L365.9,477.6 L367.4,477.0 L368.9,476.4 L370.4,475.9 L371.9,475.4 L373.4,474.9 L374.9,474.5 L376.4,474.2 L377.9,473.9 L379.4,473.6 L380.9,473.4 L382.4,473.2 L383.9,473.1 L385.4,473.0 L386.9,473.0 L388.4,473.0 L389.9,473.1 L391.4,473.2 L392.9,473.4 L394.4,473.6 L395.9,473.9 L397.4,474.2 L398.9,474.6 L400.4,475.0 L401.9,475.5 L403.4,476.0 L404.9,476.5 L406.4,477.1 L407.9,477.7 L409.4,478.4 L410.9,479.1 L412.4,479.8 L413.9,480.6 L415.4,481.4 L416.9,482.3 L418.4,483.1 L419.9,484.1 L421.4,485.0 L422.9,485.9 L424.4,486.9 L425.9,487.9 L427.4,488.9 L428.9,490.0 L430.4,491.0 L431.9,492.1 L433.4,493.1 L434.9,494.2 L436.4,495.3 L437.9,496.4 L439.4,497.5 L441.0,498.6 L442.5,499.6 L444.0,500.7 L445.5,501.8 L447.0,502.9 L448.5,503.9 L450.0,504.9 L451.5,506.0 L453.0,507.0 L454.5,507.9 L456.0,508.9 L457.5,509.8 L459.0,510.7 L460.5,511.6 L462.0,512.5 L463.5,513.3 L465.0,514.1 L466.5,514.8 L468.0,515.5 L469.5,516.2 L471.0,516.8 L472.5,517.4 L474.0,518.0 L475.5,518.5 L477.0,518.9 L478.5,519.4 L480.0,519.7 L481.5,520.1 L483.0,520.3 L484.5,520.6 L486.0,520.7 L487.5,520.9 L489.0,521.0 L490.5,521.0 L492.0,521.0 L493.5,520.9 L495.0,520.8 L496.5,520.6 L498.0,520.4 L499.5,520.2 L501.0,519.9 L502.5,519.5 L504.0,519.1 L505.5,518.7 L507.0,518.2 L508.5,517.7 L510.0,517.1 L511.5,516.5 L513.0,515.8 L514.5,515.1 L516.0,514.4"/><path d="M416.4,482.0 L417.9,481.1 L419.4,480.3 L421.0,479.5 L422.5,478.8 L424.0,478.1 L425.5,477.4 L427.1,476.8 L428.6,476.2 L430.1,475.7 L431.6,475.2 L433.2,474.8 L434.7,474.4 L436.2,474.0 L437.7,473.7 L439.3,473.5 L440.8,473.3 L442.3,473.1 L443.8,473.1 L445.3,473.0 L446.9,473.0 L448.4,473.1 L449.9,473.2 L451.4,473.3 L453.0,473.5 L454.5,473.8 L456.0,474.1 L457.5,474.4 L459.1,474.8 L460.6,475.3 L462.1,475.8 L463.6,476.3 L465.1,476.9 L466.7,477.5 L468.2,478.2 L469.7,478.9 L471.2,479.6 L472.8,480.4 L474.3,481.2 L475.8,482.1 L477.3,483.0 L478.9,483.9 L480.4,484.8 L481.9,485.8 L483.4,486.8 L485.0,487.8 L486.5,488.8 L488.0,489.9"/><path d="M443.0,473.5 L444.5,473.8 L446.0,474.1 L447.5,474.4 L449.0,474.8 L450.5,475.3 L452.0,475.8 L453.6,476.3 L455.1,476.9 L456.6,477.5 L458.1,478.1 L459.6,478.8 L461.1,479.6 L462.6,480.3 L464.1,481.1 L465.6,482.0 L467.1,482.8 L468.6,483.7 L470.1,484.7 L471.6,485.6 L473.2,486.6 L474.7,487.6 L476.2,488.6 L477.7,489.6 L479.2,490.7 L480.7,491.7 L482.2,492.8 L483.7,493.9 L485.2,495.0 L486.7,496.1 L488.2,497.2 L489.7,498.3 L491.2,499.3 L492.8,500.4 L494.3,501.5 L495.8,502.6 L497.3,503.6 L498.8,504.7 L500.3,505.7 L501.8,506.7 L503.3,507.7 L504.8,508.7 L506.3,509.6 L507.8,510.5 L509.3,511.4 L510.8,512.3 L512.4,513.1 L513.9,513.9 L515.4,514.7 L516.9,515.4 L518.4,516.1 L519.9,516.7 L521.4,517.3 L522.9,517.9 L524.4,518.4 L525.9,518.9 L527.4,519.3 L528.9,519.7 L530.4,520.0 L532.0,520.3 L533.5,520.5 L535.0,520.7 L536.5,520.9 L538.0,521.0 L539.5,521.0 L541.0,521.0"/><path d="M468.4,478.3 L470.0,477.6 L471.6,476.9 L473.2,476.3 L474.8,475.7 L476.4,475.2 L478.0,474.8 L479.6,474.4 L481.2,474.0 L482.8,473.7 L484.4,473.4 L486.0,473.3 L487.6,473.1 L489.2,473.0 L490.8,473.0"/><path d="M260.4,478.3 L261.9,477.6 L263.4,477.0 L264.9,476.4 L266.4,475.9 L267.9,475.4 L269.4,474.9 L270.9,474.5 L272.4,474.2 L273.9,473.9 L275.4,473.6 L276.9,473.4 L278.4,473.2 L279.9,473.1 L281.4,473.0 L282.9,473.0 L284.4,473.0 L285.9,473.1 L287.4,473.2 L288.9,473.4 L290.4,473.6 L291.9,473.9 L293.4,474.2 L294.9,474.6 L296.4,475.0 L297.9,475.5 L299.4,476.0 L300.9,476.5 L302.4,477.1 L303.9,477.7 L305.4,478.4 L306.9,479.1 L308.4,479.8 L309.9,480.6 L311.4,481.4 L312.9,482.3 L314.4,483.1 L315.9,484.0 L317.4,485.0 L318.9,485.9 L320.4,486.9 L321.9,487.9 L323.4,488.9 L324.9,489.9 L326.4,491.0 L327.9,492.0 L329.4,493.1 L330.9,494.2 L332.4,495.3 L333.9,496.3 L335.4,497.4 L336.9,498.5 L338.4,499.6 L339.9,500.7 L341.4,501.8 L342.9,502.8 L344.4,503.9 L345.9,504.9 L347.4,505.9 L348.9,506.9 L350.4,507.9 L351.9,508.9 L353.4,509.8 L354.9,510.7 L356.4,511.6 L357.9,512.4 L359.4,513.2 L360.9,514.0 L362.4,514.8 L363.9,515.5 L365.4,516.2 L366.9,516.8 L368.4,517.4 L369.9,517.9 L371.4,518.4 L372.9,518.9 L374.4,519.3 L375.9,519.7 L377.4,520.0 L378.9,520.3 L380.4,520.6 L381.9,520.7 L383.4,520.9 L384.9,521.0 L386.4,521.0 L387.9,521.0 L389.4,520.9 L390.9,520.8 L392.4,520.7 L393.9,520.5 L395.4,520.2 L396.9,519.9 L398.4,519.5 L399.9,519.1 L401.4,518.7 L402.9,518.2 L404.4,517.7 L405.9,517.1 L407.4,516.5 L408.9,515.8 L410.4,515.2 L411.9,514.4 L413.4,513.7 L414.9,512.9 L416.4,512.0"/><path d="M227,472.8 L218,497.5 L227,521.8"/><path d="M227,472.8 L229.5,484 L218.5,497.5 M229.5,484 Q238,491 241.5,501"/><path d="M218.5,498.5 C223,496 230,495 235,497.5 C238,499 241,501 257,512 C266,517 275,519.5 284,519.8 C293,519.5 301,517.5 312.5,513"/><path d="M227,521.8 Q243,520 258,513.2"/><path d="M489,472.8 L702,472.8 L706.6,478 L706.6,516.5 L702,521.5 L540,521.5 M702,472.8 L702,521.5"/><path d="M502.75,473 L539.5,502.75 C534,505 527,507.5 519,507 C506,505.5 495,494.8 488,489.9"/></g>
<g stroke="#161616" fill="none" stroke-width="2.0"><path d="M218.5,505 L218.5,605 M539.5,509.5 L539.5,570 M706.6,523.5 L706.6,605"/></g>
<g stroke="#161616" fill="none" stroke-width="2.0"><path d="M218.5,565.9 L539.5,565.9"/></g><path d="M218.5,565.9 L236.5,562.5 L236.5,569.3Z" fill="#161616" stroke="none"/><path d="M539.5,565.9 L521.5,569.3 L521.5,562.5Z" fill="#161616" stroke="none"/>
<g stroke="#161616" fill="none" stroke-width="2.0"><path d="M218.5,600.5 L706.6,600.5"/></g><path d="M218.5,600.5 L236.5,597.1 L236.5,603.9Z" fill="#161616" stroke="none"/><path d="M706.6,600.5 L688.6,603.9 L688.6,597.1Z" fill="#161616" stroke="none"/>
<g stroke="#161616" fill="none" stroke-width="2.0"><path d="M747.2,433.5 L747.2,560.5 M708,473.4 L752,473.4 M708,521.5 L752,521.5"/></g><path d="M747.2,473.4 L743.8,455.4 L750.6,455.4Z" fill="#161616" stroke="none"/><path d="M747.2,521.5 L750.6,539.5 L743.8,539.5Z" fill="#161616" stroke="none"/>
<path transform="translate(335.9,330.8)" d="M1.40,-21.80 V-1.40 H13.00" fill="none" stroke="#161616" stroke-width="2.8" stroke-linejoin="miter"/><path transform="translate(352.29999999999995,330.8)" d="M5.05,0 V-18.95 M5.92,-18.57 L1.12,-13.40" fill="none" stroke="#161616" stroke-width="2.5" stroke-linejoin="miter"/>
<path transform="translate(449.8,364.7)" d="M1.40,-21.80 V-1.40 H13.00" fill="none" stroke="#161616" stroke-width="2.8" stroke-linejoin="miter"/><path transform="translate(465.6,364.7)" d="M1.43,-12.52 A3.80,3.80 0 0 1 8.90,-13.50 C8.90,-11.41 7.38,-9.70 6.05,-8.37 L1.30,-1.30 H10.20" fill="none" stroke="#161616" stroke-width="2.6" stroke-linejoin="miter"/>
<path transform="translate(367.2,559.8)" d="M1.40,-21.80 V-1.40 H13.00" fill="none" stroke="#161616" stroke-width="2.8" stroke-linejoin="miter"/><path transform="translate(383.59999999999997,559.8)" d="M5.05,0 V-18.95 M5.92,-18.57 L1.12,-13.40" fill="none" stroke="#161616" stroke-width="2.5" stroke-linejoin="miter"/>
<path transform="translate(449.8,594.2)" d="M1.40,-21.80 V-1.40 H13.00" fill="none" stroke="#161616" stroke-width="2.8" stroke-linejoin="miter"/><path transform="translate(465.6,594.2)" d="M1.43,-12.52 A3.80,3.80 0 0 1 8.90,-13.50 C8.90,-11.41 7.38,-9.70 6.05,-8.37 L1.30,-1.30 H10.20" fill="none" stroke="#161616" stroke-width="2.6" stroke-linejoin="miter"/>
<path transform="matrix(0,-1,1,0,142.1,297)" d="M5.70,0 V-19.25 M6.58,-18.88 L1.12,-14.00" fill="none" stroke="#161616" stroke-width="2.5" stroke-linejoin="miter"/><path transform="matrix(0,-1,1,0,142.1,282.7)" d="M0.2,-3.5 H13.2 M10.1,0 V-9.8 M9.4,-19.5 L0.9,-3.8" fill="none" stroke="#161616" stroke-width="2.5" stroke-linejoin="miter"/><path transform="matrix(0,-1,1,0,142.1,265.6)" d="M1.25,-14.10 A4.65,4.65 0 0 1 10.55,-14.10 V-5.90 A4.65,4.65 0 0 1 1.25,-5.90 Z" fill="none" stroke="#161616" stroke-width="2.5" stroke-linejoin="miter"/><path transform="matrix(0,-1,1,0,142.1,244.8)" d="M-3.40,-15.50 A3.40,3.40 0 1 1 3.40,-15.50 A3.40,3.40 0 1 1 -3.40,-15.50 Z" fill="none" stroke="#161616" stroke-width="2.4" stroke-linejoin="miter"/>
<path transform="matrix(0,-1,1,0,142.1,526)" d="M5.70,0 V-19.25 M6.58,-18.88 L1.12,-14.00" fill="none" stroke="#161616" stroke-width="2.5" stroke-linejoin="miter"/><path transform="matrix(0,-1,1,0,142.1,511.7)" d="M0.2,-3.5 H13.2 M10.1,0 V-9.8 M9.4,-19.5 L0.9,-3.8" fill="none" stroke="#161616" stroke-width="2.5" stroke-linejoin="miter"/><path transform="matrix(0,-1,1,0,142.1,494.6)" d="M1.25,-14.10 A4.65,4.65 0 0 1 10.55,-14.10 V-5.90 A4.65,4.65 0 0 1 1.25,-5.90 Z" fill="none" stroke="#161616" stroke-width="2.5" stroke-linejoin="miter"/><path transform="matrix(0,-1,1,0,142.1,473.8)" d="M-3.40,-15.50 A3.40,3.40 0 1 1 3.40,-15.50 A3.40,3.40 0 1 1 -3.40,-15.50 Z" fill="none" stroke="#161616" stroke-width="2.4" stroke-linejoin="miter"/>
<path transform="matrix(0,-1,1,0,179,276.1)" d="M1.35,-1.35 V-18.45 H7.95 C11.26,-18.45 13.95,-14.62 13.95,-9.90 C13.95,-5.18 11.26,-1.35 7.95,-1.35 Z" fill="none" stroke="#161616" stroke-width="2.7" stroke-linejoin="miter"/>
<path transform="matrix(0,-1,1,0,179,505.2)" d="M1.35,-1.35 V-18.45 H7.95 C11.26,-18.45 13.95,-14.62 13.95,-9.90 C13.95,-5.18 11.26,-1.35 7.95,-1.35 Z" fill="none" stroke="#161616" stroke-width="2.7" stroke-linejoin="miter"/>
<path transform="matrix(0,-1,1,0,741.7,282.8)" d="M1.35,-1.35 V-18.85 H7.65 C10.96,-18.85 13.65,-14.93 13.65,-10.10 C13.65,-5.27 10.96,-1.35 7.65,-1.35 Z" fill="none" stroke="#161616" stroke-width="2.7" stroke-linejoin="miter"/><path transform="matrix(0,-1,1,0,741.7,264.3)" d="M1.44,-11.31 A4.20,4.20 0 0 1 9.70,-12.40 C9.70,-10.09 8.02,-8.20 6.55,-6.73 L1.30,-1.30 H11.00" fill="none" stroke="#161616" stroke-width="2.6" stroke-linejoin="miter"/>
<path transform="matrix(0,-1,1,0,741.8,512.2)" d="M1.35,-1.35 V-18.85 H7.65 C10.96,-18.85 13.65,-14.93 13.65,-10.10 C13.65,-5.27 10.96,-1.35 7.65,-1.35 Z" fill="none" stroke="#161616" stroke-width="2.7" stroke-linejoin="miter"/><path transform="matrix(0,-1,1,0,741.8,493.70000000000005)" d="M1.44,-11.31 A4.20,4.20 0 0 1 9.70,-12.40 C9.70,-10.09 8.02,-8.20 6.55,-6.73 L1.30,-1.30 H11.00" fill="none" stroke="#161616" stroke-width="2.6" stroke-linejoin="miter"/>
<path d="M234.4,694.3 H237.9 V711.3 H234.4 V700.2 C232.9,701.3 231.4,702 229.8,702.5 V699.1 C232,698.3 233.7,696.6 234.4,694.3 Z" fill="#111"/>
</svg>
<div class="lg" style="left:213.7px;top:691px;">L<span style="visibility:hidden">1</span>:</div><div class="lg" style="left:265px;top:691px;">Cutting Length</div>
<div class="lg" style="left:213.7px;top:724px;">L2:</div><div class="lg" style="left:265px;top:724px;letter-spacing:0.25px;">Overall Length</div>
<div class="lg" style="left:488px;top:691px;">D:</div><div class="lg" style="left:529px;top:691px;letter-spacing:0.37px;">Cutting Diameter</div>
<div class="lg" style="left:488px;top:724px;">D2:</div><div class="lg" style="left:544px;top:724px;letter-spacing:0.55px;">Shank Diameter</div>
</div>
</body></html>
